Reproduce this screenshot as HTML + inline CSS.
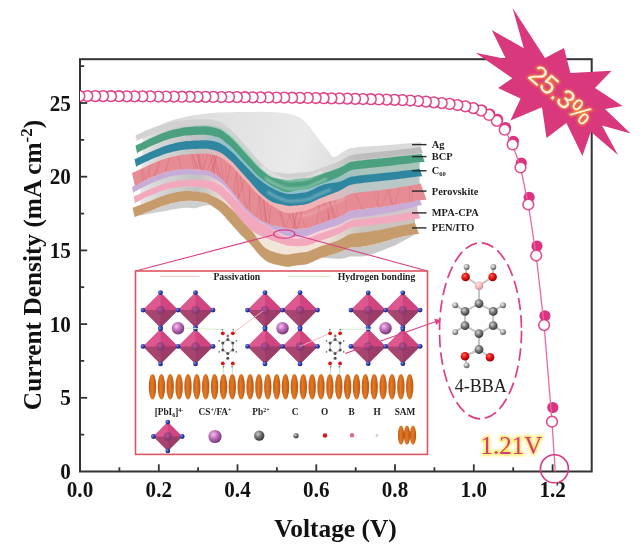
<!DOCTYPE html>
<html><head><meta charset="utf-8"><title>JV</title>
<style>
html,body{margin:0;padding:0;background:#fff;}
svg{display:block;filter:blur(0.45px)}
text{font-family:"Liberation Serif",serif;}
.tk{font-weight:bold;font-size:23px;fill:#111}
.al{font-weight:bold;font-size:25.4px;fill:#111}
.pce{font-family:"Liberation Sans",sans-serif;font-size:26.5px;fill:#f08a3c}
.voc{font-size:25px;fill:#d63a78}
.lb{font-weight:bold;font-size:10.4px;fill:#1c1c1c}
.lg{font-weight:bold;font-size:9.7px;fill:#222}
.lg2{font-weight:bold;font-size:9.3px;fill:#222}
</style></head><body>
<svg width="644" height="560" viewBox="0 0 644 560">
<defs>
<clipPath id="pc"><rect x="80" y="59.2" width="511.70000000000005" height="412.3"/></clipPath>
<filter id="glow" x="-20%" y="-50%" width="140%" height="200%"><feGaussianBlur stdDeviation="1.3"/></filter>
<filter id="yglow" x="-20%" y="-50%" width="140%" height="200%"><feGaussianBlur stdDeviation="1.4"/></filter>
<linearGradient id="agtop" gradientUnits="userSpaceOnUse" x1="150" y1="110" x2="420" y2="190">
<stop offset="0" stop-color="#d8d8d8"/><stop offset="0.3" stop-color="#e2e2e2"/><stop offset="0.55" stop-color="#eaeaea"/><stop offset="0.75" stop-color="#dadada"/><stop offset="1" stop-color="#dcdcdc"/></linearGradient>
<linearGradient id="agface" gradientUnits="userSpaceOnUse" x1="135" y1="0" x2="420" y2="0"><stop offset="0" stop-color="#d2d2d2"/><stop offset="0.68" stop-color="#d0d0d0"/><stop offset="0.78" stop-color="#bdbdbd"/><stop offset="1" stop-color="#bbbbbb"/></linearGradient>
<filter id="hl" x="-10%" y="-50%" width="120%" height="200%"><feGaussianBlur stdDeviation="0.9"/></filter>
<filter id="soft" x="-5%" y="-5%" width="110%" height="110%"><feGaussianBlur stdDeviation="0.55"/></filter>
<linearGradient id="gp_tan" gradientUnits="userSpaceOnUse" x1="135" y1="0" x2="420" y2="0"><stop offset="0" stop-color="#ececec"/><stop offset="0.08" stop-color="#d6d6d6"/><stop offset="0.22" stop-color="#c0c2c1"/><stop offset="0.33" stop-color="#f1e4d8"/><stop offset="0.66" stop-color="#f1e4d8"/><stop offset="0.8" stop-color="#c9c4bc"/><stop offset="1" stop-color="#c9c4bc"/></linearGradient>
<linearGradient id="gp_pink" gradientUnits="userSpaceOnUse" x1="135" y1="0" x2="420" y2="0"><stop offset="0" stop-color="#ececec"/><stop offset="0.08" stop-color="#d6d6d6"/><stop offset="0.22" stop-color="#c0c2c1"/><stop offset="0.33" stop-color="#f9d3dc"/><stop offset="0.66" stop-color="#f9d3dc"/><stop offset="0.8" stop-color="#d3c6cb"/><stop offset="1" stop-color="#d3c6cb"/></linearGradient>
<linearGradient id="gp_purple" gradientUnits="userSpaceOnUse" x1="135" y1="0" x2="420" y2="0"><stop offset="0" stop-color="#ececec"/><stop offset="0.08" stop-color="#d6d6d6"/><stop offset="0.22" stop-color="#c0c2c1"/><stop offset="0.33" stop-color="#dccbe6"/><stop offset="0.66" stop-color="#dccbe6"/><stop offset="0.8" stop-color="#cfc9d3"/><stop offset="1" stop-color="#cfc9d3"/></linearGradient>
<linearGradient id="gp_perov" gradientUnits="userSpaceOnUse" x1="135" y1="0" x2="420" y2="0"><stop offset="0" stop-color="#ececec"/><stop offset="0.08" stop-color="#d6d6d6"/><stop offset="0.22" stop-color="#c0c2c1"/><stop offset="0.33" stop-color="#f2b3b6"/><stop offset="0.66" stop-color="#f2b3b6"/><stop offset="0.8" stop-color="#b9c7c7"/><stop offset="1" stop-color="#b9c7c7"/></linearGradient>
<linearGradient id="gp_c60" gradientUnits="userSpaceOnUse" x1="135" y1="0" x2="420" y2="0"><stop offset="0" stop-color="#ececec"/><stop offset="0.08" stop-color="#d6d6d6"/><stop offset="0.22" stop-color="#c0c2c1"/><stop offset="0.33" stop-color="#8fc0cc"/><stop offset="0.66" stop-color="#8fc0cc"/><stop offset="0.8" stop-color="#a9c4b9"/><stop offset="1" stop-color="#a9c4b9"/></linearGradient>
<linearGradient id="gp_bcp" gradientUnits="userSpaceOnUse" x1="135" y1="0" x2="420" y2="0"><stop offset="0" stop-color="#ececec"/><stop offset="0.08" stop-color="#d6d6d6"/><stop offset="0.22" stop-color="#c0c2c1"/><stop offset="0.33" stop-color="#a3d3bd"/><stop offset="0.66" stop-color="#a3d3bd"/><stop offset="0.8" stop-color="#c9cec9"/><stop offset="1" stop-color="#c9cec9"/></linearGradient>
<linearGradient id="gp_ag" gradientUnits="userSpaceOnUse" x1="135" y1="0" x2="420" y2="0"><stop offset="0" stop-color="#ececec"/><stop offset="0.08" stop-color="#d6d6d6"/><stop offset="0.22" stop-color="#c0c2c1"/><stop offset="0.33" stop-color="#e4e4e4"/><stop offset="0.66" stop-color="#e4e4e4"/><stop offset="0.8" stop-color="#ddd"/><stop offset="1" stop-color="#ddd"/></linearGradient>

<radialGradient id="gBlue" cx="0.35" cy="0.35" r="0.7"><stop offset="0" stop-color="#7d8fe0"/><stop offset="0.5" stop-color="#2f3fb0"/><stop offset="1" stop-color="#151f70"/></radialGradient>
<radialGradient id="gPb" cx="0.4" cy="0.4" r="0.65"><stop offset="0" stop-color="#b0509a"/><stop offset="1" stop-color="#7a2f66"/></radialGradient>
<radialGradient id="gCs" cx="0.38" cy="0.35" r="0.7"><stop offset="0" stop-color="#f2c4ee"/><stop offset="0.4" stop-color="#c676c2"/><stop offset="1" stop-color="#6e3074"/></radialGradient>
<radialGradient id="gGray" cx="0.38" cy="0.35" r="0.7"><stop offset="0" stop-color="#c8c8c8"/><stop offset="0.5" stop-color="#6e6e6e"/><stop offset="1" stop-color="#2c2c2c"/></radialGradient>
<radialGradient id="gC" cx="0.38" cy="0.35" r="0.7"><stop offset="0" stop-color="#d8d8d8"/><stop offset="0.45" stop-color="#7c7c7c"/><stop offset="1" stop-color="#2e2e2e"/></radialGradient>
<radialGradient id="gO" cx="0.38" cy="0.35" r="0.7"><stop offset="0" stop-color="#ff6a5a"/><stop offset="0.5" stop-color="#e01010"/><stop offset="1" stop-color="#8c0000"/></radialGradient>
<radialGradient id="gB" cx="0.38" cy="0.35" r="0.7"><stop offset="0" stop-color="#ffe6e4"/><stop offset="0.55" stop-color="#f4b8ba"/><stop offset="1" stop-color="#c48a8e"/></radialGradient>
<radialGradient id="gH" cx="0.38" cy="0.35" r="0.7"><stop offset="0" stop-color="#f4f4f4"/><stop offset="0.5" stop-color="#a8a8a8"/><stop offset="1" stop-color="#4a4a4a"/></radialGradient>
<linearGradient id="gSam" x1="0" y1="0" x2="1" y2="0"><stop offset="0" stop-color="#c25a14"/><stop offset="0.45" stop-color="#e27a26"/><stop offset="1" stop-color="#ba5410"/></linearGradient>
<filter id="soft2" x="-5%" y="-5%" width="110%" height="110%"><feGaussianBlur stdDeviation="0.45"/></filter>

</defs>
<rect width="644" height="560" fill="#fff"/>
<rect x="80" y="59.2" width="511.70000000000005" height="412.3" fill="none" stroke="#333" stroke-width="2"/>
<line x1="119.4" y1="471.5" x2="119.4" y2="467.3" stroke="#333" stroke-width="1.8"/>
<line x1="158.8" y1="471.5" x2="158.8" y2="464.3" stroke="#333" stroke-width="1.8"/>
<line x1="198.1" y1="471.5" x2="198.1" y2="467.3" stroke="#333" stroke-width="1.8"/>
<line x1="237.5" y1="471.5" x2="237.5" y2="464.3" stroke="#333" stroke-width="1.8"/>
<line x1="276.9" y1="471.5" x2="276.9" y2="467.3" stroke="#333" stroke-width="1.8"/>
<line x1="316.3" y1="471.5" x2="316.3" y2="464.3" stroke="#333" stroke-width="1.8"/>
<line x1="355.7" y1="471.5" x2="355.7" y2="467.3" stroke="#333" stroke-width="1.8"/>
<line x1="395.0" y1="471.5" x2="395.0" y2="464.3" stroke="#333" stroke-width="1.8"/>
<line x1="434.4" y1="471.5" x2="434.4" y2="467.3" stroke="#333" stroke-width="1.8"/>
<line x1="473.8" y1="471.5" x2="473.8" y2="464.3" stroke="#333" stroke-width="1.8"/>
<line x1="513.2" y1="471.5" x2="513.2" y2="467.3" stroke="#333" stroke-width="1.8"/>
<line x1="552.6" y1="471.5" x2="552.6" y2="464.3" stroke="#333" stroke-width="1.8"/>
<line x1="80" y1="434.6" x2="84.2" y2="434.6" stroke="#333" stroke-width="1.8"/>
<line x1="80" y1="397.8" x2="87.2" y2="397.8" stroke="#333" stroke-width="1.8"/>
<line x1="80" y1="360.9" x2="84.2" y2="360.9" stroke="#333" stroke-width="1.8"/>
<line x1="80" y1="324.1" x2="87.2" y2="324.1" stroke="#333" stroke-width="1.8"/>
<line x1="80" y1="287.2" x2="84.2" y2="287.2" stroke="#333" stroke-width="1.8"/>
<line x1="80" y1="250.4" x2="87.2" y2="250.4" stroke="#333" stroke-width="1.8"/>
<line x1="80" y1="213.6" x2="84.2" y2="213.6" stroke="#333" stroke-width="1.8"/>
<line x1="80" y1="176.7" x2="87.2" y2="176.7" stroke="#333" stroke-width="1.8"/>
<line x1="80" y1="139.9" x2="84.2" y2="139.9" stroke="#333" stroke-width="1.8"/>
<line x1="80" y1="103.0" x2="87.2" y2="103.0" stroke="#333" stroke-width="1.8"/>
<line x1="80" y1="66.1" x2="84.2" y2="66.1" stroke="#333" stroke-width="1.8"/>
<text transform="translate(80.0,497.3) scale(0.92,1)" class="tk" text-anchor="middle">0.0</text>
<text transform="translate(158.8,497.3) scale(0.92,1)" class="tk" text-anchor="middle">0.2</text>
<text transform="translate(237.5,497.3) scale(0.92,1)" class="tk" text-anchor="middle">0.4</text>
<text transform="translate(316.3,497.3) scale(0.92,1)" class="tk" text-anchor="middle">0.6</text>
<text transform="translate(395.0,497.3) scale(0.92,1)" class="tk" text-anchor="middle">0.8</text>
<text transform="translate(473.8,497.3) scale(0.92,1)" class="tk" text-anchor="middle">1.0</text>
<text transform="translate(552.6,497.3) scale(0.92,1)" class="tk" text-anchor="middle">1.2</text>
<text transform="translate(70.8,479.1) scale(0.92,1)" class="tk" text-anchor="end">0</text>
<text transform="translate(70.8,405.4) scale(0.92,1)" class="tk" text-anchor="end">5</text>
<text transform="translate(70.8,331.7) scale(0.92,1)" class="tk" text-anchor="end">10</text>
<text transform="translate(70.8,258.0) scale(0.92,1)" class="tk" text-anchor="end">15</text>
<text transform="translate(70.8,184.3) scale(0.92,1)" class="tk" text-anchor="end">20</text>
<text transform="translate(70.8,110.6) scale(0.92,1)" class="tk" text-anchor="end">25</text>
<text x="335.5" y="537" class="al" text-anchor="middle">Voltage (V)</text>
<text transform="translate(40.8,265) rotate(-90)" class="al" style="font-size:25.35px" text-anchor="middle">Current Density (mA cm<tspan dy="-8.5" font-size="17">-2</tspan><tspan dy="8.5">)</tspan></text>
<g clip-path="url(#pc)">
<circle cx="552.8" cy="407.5" r="5.6" fill="#dc3380"/>
<circle cx="544.9" cy="315.8" r="5.6" fill="#dc3380"/>
<circle cx="537.0" cy="246.1" r="5.6" fill="#dc3380"/>
<circle cx="529.1" cy="197.3" r="5.6" fill="#dc3380"/>
<circle cx="521.3" cy="163.0" r="5.6" fill="#dc3380"/>
<circle cx="513.4" cy="141.3" r="5.6" fill="#dc3380"/>
<circle cx="505.5" cy="127.5" r="5.6" fill="#dc3380"/>
<circle cx="497.6" cy="119.4" r="5.6" fill="#dc3380"/>
<circle cx="489.8" cy="114.1" r="5.6" fill="#dc3380"/>
<circle cx="481.9" cy="110.2" r="5.6" fill="#dc3380"/>
<circle cx="474.0" cy="108.1" r="5.6" fill="#dc3380"/>
<circle cx="466.1" cy="106.3" r="5.6" fill="#dc3380"/>
<circle cx="458.2" cy="105.0" r="5.6" fill="#dc3380"/>
<circle cx="450.4" cy="103.9" r="5.6" fill="#dc3380"/>
<circle cx="442.5" cy="103.1" r="5.6" fill="#dc3380"/>
<circle cx="434.6" cy="102.3" r="5.6" fill="#dc3380"/>
<circle cx="426.7" cy="101.6" r="5.6" fill="#dc3380"/>
<circle cx="418.9" cy="101.0" r="5.6" fill="#dc3380"/>
<circle cx="411.0" cy="100.5" r="5.6" fill="#dc3380"/>
<circle cx="403.1" cy="100.1" r="5.6" fill="#dc3380"/>
<circle cx="395.2" cy="99.8" r="5.6" fill="#dc3380"/>
<circle cx="387.4" cy="99.6" r="5.6" fill="#dc3380"/>
<circle cx="379.5" cy="99.4" r="5.6" fill="#dc3380"/>
<circle cx="371.6" cy="99.2" r="5.6" fill="#dc3380"/>
<circle cx="363.7" cy="99.0" r="5.6" fill="#dc3380"/>
<circle cx="355.9" cy="98.8" r="5.6" fill="#dc3380"/>
<circle cx="348.0" cy="98.6" r="5.6" fill="#dc3380"/>
<circle cx="340.1" cy="98.4" r="5.6" fill="#dc3380"/>
<circle cx="332.2" cy="98.3" r="5.6" fill="#dc3380"/>
<circle cx="324.4" cy="98.2" r="5.6" fill="#dc3380"/>
<circle cx="316.5" cy="98.0" r="5.6" fill="#dc3380"/>
<circle cx="308.6" cy="97.9" r="5.6" fill="#dc3380"/>
<circle cx="300.7" cy="97.8" r="5.6" fill="#dc3380"/>
<circle cx="292.9" cy="97.7" r="5.6" fill="#dc3380"/>
<circle cx="285.0" cy="97.6" r="5.6" fill="#dc3380"/>
<circle cx="277.1" cy="97.5" r="5.6" fill="#dc3380"/>
<circle cx="269.2" cy="97.4" r="5.6" fill="#dc3380"/>
<circle cx="261.3" cy="97.4" r="5.6" fill="#dc3380"/>
<circle cx="253.5" cy="97.3" r="5.6" fill="#dc3380"/>
<circle cx="245.6" cy="97.2" r="5.6" fill="#dc3380"/>
<circle cx="237.7" cy="97.1" r="5.6" fill="#dc3380"/>
<circle cx="229.8" cy="97.0" r="5.6" fill="#dc3380"/>
<circle cx="222.0" cy="97.0" r="5.6" fill="#dc3380"/>
<circle cx="214.1" cy="96.9" r="5.6" fill="#dc3380"/>
<circle cx="206.2" cy="96.8" r="5.6" fill="#dc3380"/>
<circle cx="198.3" cy="96.8" r="5.6" fill="#dc3380"/>
<circle cx="190.5" cy="96.7" r="5.6" fill="#dc3380"/>
<circle cx="182.6" cy="96.7" r="5.6" fill="#dc3380"/>
<circle cx="174.7" cy="96.6" r="5.6" fill="#dc3380"/>
<circle cx="166.8" cy="96.5" r="5.6" fill="#dc3380"/>
<circle cx="159.0" cy="96.5" r="5.6" fill="#dc3380"/>
<circle cx="151.1" cy="96.4" r="5.6" fill="#dc3380"/>
<circle cx="143.2" cy="96.4" r="5.6" fill="#dc3380"/>
<circle cx="135.3" cy="96.3" r="5.6" fill="#dc3380"/>
<circle cx="127.5" cy="96.3" r="5.6" fill="#dc3380"/>
<circle cx="119.6" cy="96.2" r="5.6" fill="#dc3380"/>
<circle cx="111.7" cy="96.2" r="5.6" fill="#dc3380"/>
<circle cx="103.8" cy="96.1" r="5.6" fill="#dc3380"/>
<circle cx="96.0" cy="96.1" r="5.6" fill="#dc3380"/>
<circle cx="88.1" cy="96.0" r="5.6" fill="#dc3380"/>
<circle cx="80.2" cy="96.0" r="5.6" fill="#dc3380"/>
<polyline points="79.4,96.0 87.3,96.0 95.2,96.1 103.0,96.1 110.9,96.2 118.8,96.2 126.7,96.3 134.5,96.3 142.4,96.4 150.3,96.4 158.2,96.5 166.0,96.5 173.9,96.6 181.8,96.7 189.7,96.7 197.5,96.8 205.4,96.8 213.3,96.9 221.2,97.0 229.0,97.0 236.9,97.1 244.8,97.2 252.7,97.3 260.5,97.4 268.4,97.4 276.3,97.5 284.2,97.6 292.1,97.7 299.9,97.8 307.8,97.9 315.7,98.0 323.6,98.2 331.4,98.3 339.3,98.4 347.2,98.6 355.1,98.8 362.9,99.0 370.8,99.2 378.7,99.4 386.6,99.6 394.4,99.8 402.3,100.1 410.2,100.5 418.1,101.0 425.9,101.6 433.8,102.3 441.7,103.1 449.6,103.9 457.4,105.0 465.3,106.3 473.2,108.1 481.1,110.6 489.0,114.9 496.8,120.8 504.7,129.7 512.6,144.5 520.5,167.5 528.3,204.5 536.2,255.5 544.1,325.1 552.0,421.7 555.2,471.5 557,520" fill="none" stroke="#e86aa2" stroke-width="1.3"/>
<circle cx="552.0" cy="421.7" r="5.35" fill="#fff" stroke="#dc3380" stroke-width="1.55" stroke-opacity="0.88"/>
<circle cx="544.1" cy="325.1" r="5.35" fill="#fff" stroke="#dc3380" stroke-width="1.55" stroke-opacity="0.88"/>
<circle cx="536.2" cy="255.5" r="5.35" fill="#fff" stroke="#dc3380" stroke-width="1.55" stroke-opacity="0.88"/>
<circle cx="528.3" cy="204.5" r="5.35" fill="#fff" stroke="#dc3380" stroke-width="1.55" stroke-opacity="0.88"/>
<circle cx="520.5" cy="167.5" r="5.35" fill="#fff" stroke="#dc3380" stroke-width="1.55" stroke-opacity="0.88"/>
<circle cx="512.6" cy="144.5" r="5.35" fill="#fff" stroke="#dc3380" stroke-width="1.55" stroke-opacity="0.88"/>
<circle cx="504.7" cy="129.7" r="5.35" fill="#fff" stroke="#dc3380" stroke-width="1.55" stroke-opacity="0.88"/>
<circle cx="496.8" cy="120.8" r="5.35" fill="#fff" stroke="#dc3380" stroke-width="1.55" stroke-opacity="0.88"/>
<circle cx="489.0" cy="114.9" r="5.35" fill="#fff" stroke="#dc3380" stroke-width="1.55" stroke-opacity="0.88"/>
<circle cx="481.1" cy="110.6" r="5.35" fill="#fff" stroke="#dc3380" stroke-width="1.55" stroke-opacity="0.88"/>
<circle cx="473.2" cy="108.1" r="5.35" fill="#fff" stroke="#dc3380" stroke-width="1.55" stroke-opacity="0.88"/>
<circle cx="465.3" cy="106.3" r="5.35" fill="#fff" stroke="#dc3380" stroke-width="1.55" stroke-opacity="0.88"/>
<circle cx="457.4" cy="105.0" r="5.35" fill="#fff" stroke="#dc3380" stroke-width="1.55" stroke-opacity="0.88"/>
<circle cx="449.6" cy="103.9" r="5.35" fill="#fff" stroke="#dc3380" stroke-width="1.55" stroke-opacity="0.88"/>
<circle cx="441.7" cy="103.1" r="5.35" fill="#fff" stroke="#dc3380" stroke-width="1.55" stroke-opacity="0.88"/>
<circle cx="433.8" cy="102.3" r="5.35" fill="#fff" stroke="#dc3380" stroke-width="1.55" stroke-opacity="0.88"/>
<circle cx="425.9" cy="101.6" r="5.35" fill="#fff" stroke="#dc3380" stroke-width="1.55" stroke-opacity="0.88"/>
<circle cx="418.1" cy="101.0" r="5.35" fill="#fff" stroke="#dc3380" stroke-width="1.55" stroke-opacity="0.88"/>
<circle cx="410.2" cy="100.5" r="5.35" fill="#fff" stroke="#dc3380" stroke-width="1.55" stroke-opacity="0.88"/>
<circle cx="402.3" cy="100.1" r="5.35" fill="#fff" stroke="#dc3380" stroke-width="1.55" stroke-opacity="0.88"/>
<circle cx="394.4" cy="99.8" r="5.35" fill="#fff" stroke="#dc3380" stroke-width="1.55" stroke-opacity="0.88"/>
<circle cx="386.6" cy="99.6" r="5.35" fill="#fff" stroke="#dc3380" stroke-width="1.55" stroke-opacity="0.88"/>
<circle cx="378.7" cy="99.4" r="5.35" fill="#fff" stroke="#dc3380" stroke-width="1.55" stroke-opacity="0.88"/>
<circle cx="370.8" cy="99.2" r="5.35" fill="#fff" stroke="#dc3380" stroke-width="1.55" stroke-opacity="0.88"/>
<circle cx="362.9" cy="99.0" r="5.35" fill="#fff" stroke="#dc3380" stroke-width="1.55" stroke-opacity="0.88"/>
<circle cx="355.1" cy="98.8" r="5.35" fill="#fff" stroke="#dc3380" stroke-width="1.55" stroke-opacity="0.88"/>
<circle cx="347.2" cy="98.6" r="5.35" fill="#fff" stroke="#dc3380" stroke-width="1.55" stroke-opacity="0.88"/>
<circle cx="339.3" cy="98.4" r="5.35" fill="#fff" stroke="#dc3380" stroke-width="1.55" stroke-opacity="0.88"/>
<circle cx="331.4" cy="98.3" r="5.35" fill="#fff" stroke="#dc3380" stroke-width="1.55" stroke-opacity="0.88"/>
<circle cx="323.6" cy="98.2" r="5.35" fill="#fff" stroke="#dc3380" stroke-width="1.55" stroke-opacity="0.88"/>
<circle cx="315.7" cy="98.0" r="5.35" fill="#fff" stroke="#dc3380" stroke-width="1.55" stroke-opacity="0.88"/>
<circle cx="307.8" cy="97.9" r="5.35" fill="#fff" stroke="#dc3380" stroke-width="1.55" stroke-opacity="0.88"/>
<circle cx="299.9" cy="97.8" r="5.35" fill="#fff" stroke="#dc3380" stroke-width="1.55" stroke-opacity="0.88"/>
<circle cx="292.1" cy="97.7" r="5.35" fill="#fff" stroke="#dc3380" stroke-width="1.55" stroke-opacity="0.88"/>
<circle cx="284.2" cy="97.6" r="5.35" fill="#fff" stroke="#dc3380" stroke-width="1.55" stroke-opacity="0.88"/>
<circle cx="276.3" cy="97.5" r="5.35" fill="#fff" stroke="#dc3380" stroke-width="1.55" stroke-opacity="0.88"/>
<circle cx="268.4" cy="97.4" r="5.35" fill="#fff" stroke="#dc3380" stroke-width="1.55" stroke-opacity="0.88"/>
<circle cx="260.5" cy="97.4" r="5.35" fill="#fff" stroke="#dc3380" stroke-width="1.55" stroke-opacity="0.88"/>
<circle cx="252.7" cy="97.3" r="5.35" fill="#fff" stroke="#dc3380" stroke-width="1.55" stroke-opacity="0.88"/>
<circle cx="244.8" cy="97.2" r="5.35" fill="#fff" stroke="#dc3380" stroke-width="1.55" stroke-opacity="0.88"/>
<circle cx="236.9" cy="97.1" r="5.35" fill="#fff" stroke="#dc3380" stroke-width="1.55" stroke-opacity="0.88"/>
<circle cx="229.0" cy="97.0" r="5.35" fill="#fff" stroke="#dc3380" stroke-width="1.55" stroke-opacity="0.88"/>
<circle cx="221.2" cy="97.0" r="5.35" fill="#fff" stroke="#dc3380" stroke-width="1.55" stroke-opacity="0.88"/>
<circle cx="213.3" cy="96.9" r="5.35" fill="#fff" stroke="#dc3380" stroke-width="1.55" stroke-opacity="0.88"/>
<circle cx="205.4" cy="96.8" r="5.35" fill="#fff" stroke="#dc3380" stroke-width="1.55" stroke-opacity="0.88"/>
<circle cx="197.5" cy="96.8" r="5.35" fill="#fff" stroke="#dc3380" stroke-width="1.55" stroke-opacity="0.88"/>
<circle cx="189.7" cy="96.7" r="5.35" fill="#fff" stroke="#dc3380" stroke-width="1.55" stroke-opacity="0.88"/>
<circle cx="181.8" cy="96.7" r="5.35" fill="#fff" stroke="#dc3380" stroke-width="1.55" stroke-opacity="0.88"/>
<circle cx="173.9" cy="96.6" r="5.35" fill="#fff" stroke="#dc3380" stroke-width="1.55" stroke-opacity="0.88"/>
<circle cx="166.0" cy="96.5" r="5.35" fill="#fff" stroke="#dc3380" stroke-width="1.55" stroke-opacity="0.88"/>
<circle cx="158.2" cy="96.5" r="5.35" fill="#fff" stroke="#dc3380" stroke-width="1.55" stroke-opacity="0.88"/>
<circle cx="150.3" cy="96.4" r="5.35" fill="#fff" stroke="#dc3380" stroke-width="1.55" stroke-opacity="0.88"/>
<circle cx="142.4" cy="96.4" r="5.35" fill="#fff" stroke="#dc3380" stroke-width="1.55" stroke-opacity="0.88"/>
<circle cx="134.5" cy="96.3" r="5.35" fill="#fff" stroke="#dc3380" stroke-width="1.55" stroke-opacity="0.88"/>
<circle cx="126.7" cy="96.3" r="5.35" fill="#fff" stroke="#dc3380" stroke-width="1.55" stroke-opacity="0.88"/>
<circle cx="118.8" cy="96.2" r="5.35" fill="#fff" stroke="#dc3380" stroke-width="1.55" stroke-opacity="0.88"/>
<circle cx="110.9" cy="96.2" r="5.35" fill="#fff" stroke="#dc3380" stroke-width="1.55" stroke-opacity="0.88"/>
<circle cx="103.0" cy="96.1" r="5.35" fill="#fff" stroke="#dc3380" stroke-width="1.55" stroke-opacity="0.88"/>
<circle cx="95.2" cy="96.1" r="5.35" fill="#fff" stroke="#dc3380" stroke-width="1.55" stroke-opacity="0.88"/>
<circle cx="87.3" cy="96.0" r="5.35" fill="#fff" stroke="#dc3380" stroke-width="1.55" stroke-opacity="0.88"/>
<circle cx="79.4" cy="96.0" r="5.35" fill="#fff" stroke="#dc3380" stroke-width="1.55" stroke-opacity="0.88"/>
</g>
<g filter="url(#soft)">
<polygon points="140.0,215.1 141.8,214.3 143.7,213.6 145.5,212.8 147.4,212.1 149.2,211.3 151.1,210.6 152.9,209.8 154.8,209.1 156.6,208.4 158.5,207.6 160.3,206.9 162.2,206.2 164.0,205.5 165.8,204.9 167.7,204.3 169.5,203.8 171.4,203.4 173.2,202.9 175.1,202.5 176.9,202.1 178.8,201.7 180.6,201.4 182.5,201.1 184.3,200.9 186.2,200.8 188.0,200.7 189.8,200.7 191.7,200.7 193.5,200.8 195.4,201.0 197.2,201.2 199.1,201.4 200.9,201.7 202.8,202.0 204.6,202.4 206.5,202.9 208.3,203.7 210.2,204.7 212.0,205.9 212.0,205.9 210.2,205.5 208.3,205.3 206.5,205.4 204.6,205.7 202.8,206.1 200.9,206.6 199.1,207.1 197.2,207.7 195.4,208.3 193.5,208.3 191.7,208.1 189.8,207.9 188.0,207.8 186.2,207.8 184.3,207.9 182.5,208.0 180.6,208.2 178.8,208.4 176.9,208.7 175.1,209.0 173.2,209.4 171.4,209.7 169.5,210.0 167.7,210.4 165.8,210.9 164.0,211.3 162.2,211.5 160.3,211.8 158.5,212.2 156.6,212.5 154.8,212.8 152.9,213.2 151.1,213.5 149.2,213.8 147.4,214.2 145.5,214.5 143.7,214.9 141.8,215.2 140.0,215.6" fill="#cfcfcf" />
<polygon points="322.0,257.7 324.4,257.0 326.7,256.3 329.1,255.7 331.4,255.0 333.8,254.3 336.2,253.5 338.5,252.7 340.9,251.8 343.2,250.7 345.6,249.5 347.9,248.4 350.3,247.7 352.7,247.4 355.0,247.3 357.4,247.1 359.7,246.9 362.1,246.7 364.5,246.4 366.8,246.0 369.2,245.5 371.5,245.0 373.9,244.4 376.3,243.8 378.6,243.2 381.0,242.5 383.3,241.8 385.7,241.1 388.1,240.4 390.4,239.7 392.8,239.1 395.1,238.4 397.5,237.8 399.8,237.2 402.2,236.7 404.6,236.2 406.9,235.7 409.3,235.1 411.6,234.6 414.0,234.1 414.0,235.1 411.6,236.4 409.3,237.6 406.9,238.9 404.6,240.2 402.2,241.4 399.8,242.7 397.5,244.0 395.1,245.4 392.8,246.3 390.4,247.2 388.1,248.1 385.7,249.1 383.3,250.0 381.0,250.9 378.6,251.8 376.3,252.7 373.9,253.5 371.5,254.3 369.2,255.1 366.8,255.8 364.5,256.3 362.1,256.5 359.7,256.6 357.4,256.6 355.0,256.5 352.7,256.5 350.3,256.6 347.9,257.1 345.6,258.0 343.2,258.5 340.9,258.8 338.5,258.8 336.2,258.8 333.8,258.6 331.4,258.5 329.1,258.3 326.7,258.1 324.4,257.9 322.0,257.7" fill="#c9c9c9" />
<polygon points="135.5,137.0 137.6,135.5 139.6,134.1 141.7,132.8 143.7,131.7 145.8,130.6 147.8,129.7 149.9,128.9 151.9,128.1 154.0,127.3 156.0,126.6 158.1,125.8 160.1,124.9 162.2,124.0 164.3,123.2 166.3,122.3 168.4,121.6 170.4,120.9 172.5,120.2 174.5,119.6 176.6,119.0 178.6,118.5 180.7,117.9 182.7,117.4 184.8,117.0 186.8,116.5 188.9,116.1 191.0,115.7 193.0,115.3 195.1,115.0 197.1,114.7 199.2,114.4 201.2,114.2 203.3,113.9 205.3,113.7 207.4,113.4 209.4,113.2 211.5,113.0 213.6,112.9 215.6,112.7 217.7,112.6 219.7,112.5 221.8,112.4 223.8,112.4 225.9,112.3 227.9,112.3 230.0,112.2 232.0,112.2 234.1,112.2 236.1,112.1 238.2,112.1 240.3,112.1 242.3,112.0 244.4,112.0 246.4,112.0 248.5,111.9 250.5,111.9 252.6,111.9 254.6,111.9 256.7,111.8 258.7,111.8 260.8,111.8 262.8,111.8 264.9,111.8 267.0,111.9 269.0,112.0 271.1,112.1 273.1,112.2 275.2,112.3 277.2,112.5 279.3,112.6 281.3,112.8 283.4,113.0 285.4,113.2 287.5,113.5 289.5,113.9 291.6,114.4 293.7,115.0 295.7,115.7 297.8,116.5 299.8,117.4 301.9,118.7 303.9,120.5 306.0,122.8 308.0,125.0 310.1,127.5 312.1,130.2 314.2,132.9 316.2,135.7 318.3,138.5 320.4,141.4 322.4,144.0 324.5,146.4 326.5,148.8 328.6,151.2 330.6,154.4 332.7,156.7 334.7,156.8 336.8,156.0 338.8,154.7 340.9,153.2 342.9,151.8 345.0,150.7 347.1,149.5 349.1,148.6 351.2,148.1 353.2,147.8 355.3,147.5 357.3,147.3 359.4,147.0 361.4,146.8 363.5,146.7 365.5,146.5 367.6,146.4 369.7,146.3 371.7,146.2 373.8,146.0 375.8,145.9 377.9,145.8 379.9,145.7 382.0,145.5 384.0,145.4 386.1,145.2 388.1,145.0 390.2,144.9 392.2,144.7 394.3,144.5 396.4,144.3 398.4,144.2 400.5,144.0 402.5,143.8 404.6,143.6 406.6,143.4 408.7,143.3 410.7,143.1 412.8,142.9 414.8,142.7 416.9,142.6 418.9,142.4 421.0,142.2 420.7,148.0 418.3,148.3 415.9,148.6 413.5,148.9 411.1,149.2 408.7,149.5 406.3,149.8 403.9,150.1 401.5,150.3 399.1,150.6 396.7,150.9 394.3,151.2 391.9,151.4 389.5,151.7 387.1,152.0 384.8,152.2 382.4,152.5 380.0,152.8 377.6,153.0 375.2,153.2 372.8,153.5 370.4,153.7 368.0,154.0 365.6,154.2 363.2,154.5 360.8,154.8 358.4,155.0 356.0,155.3 353.6,155.7 351.2,156.2 348.8,157.0 346.4,158.3 344.0,159.8 341.6,161.2 339.2,162.4 336.8,163.4 334.4,164.4 332.0,165.3 329.6,166.1 327.2,167.0 324.8,167.8 322.4,168.6 320.0,169.4 317.6,170.2 315.2,171.1 312.9,171.9 310.5,172.5 308.1,173.0 305.7,173.3 303.3,173.4 300.9,173.5 298.5,173.8 296.1,174.1 293.7,174.3 291.3,174.6 288.9,174.8 286.5,174.7 284.1,174.3 281.7,173.9 279.3,173.6 276.9,173.4 274.5,173.2 272.1,172.6 269.7,171.3 267.3,169.6 264.9,167.6 262.5,165.4 260.1,163.1 257.7,160.6 255.3,157.8 252.9,154.9 250.5,152.0 248.1,149.2 245.7,146.5 243.3,143.9 241.0,141.3 238.6,138.6 236.2,135.9 233.8,133.4 231.4,131.2 229.0,129.2 226.6,127.3 224.2,125.5 221.8,124.0 219.4,122.7 217.0,122.0 214.6,121.4 212.2,120.9 209.8,120.5 207.4,120.2 205.0,120.2 202.6,120.2 200.2,120.3 197.8,120.4 195.4,120.4 193.0,120.6 190.6,120.7 188.2,120.8 185.8,120.9 183.4,121.2 181.0,121.5 178.6,121.9 176.2,122.3 173.8,122.8 171.4,123.3 169.1,123.8 166.7,124.5 164.3,125.2 161.9,126.0 159.5,126.8 157.1,127.7 154.7,128.6 152.3,129.4 149.9,130.3 147.5,131.3 145.1,132.3 142.7,133.3 140.3,134.3 137.9,135.3 135.5,136.3" fill="url(#agtop)" />
<polygon points="140.5,199.6 142.8,198.4 145.1,197.3 147.4,196.2 149.7,195.1 152.0,194.1 154.3,193.2 156.6,192.3 159.0,191.4 161.3,190.5 163.6,189.7 165.9,189.0 168.2,188.4 170.5,188.0 172.8,187.5 175.1,187.1 177.4,186.8 179.7,186.5 182.0,186.3 184.3,186.2 186.6,186.1 188.9,186.2 191.2,186.3 193.6,186.4 195.9,186.5 198.2,186.6 200.5,186.8 202.8,187.0 205.1,187.3 207.4,187.9 209.7,188.7 212.0,189.8 214.3,191.0 216.6,192.4 218.9,193.9 221.2,195.8 223.5,198.2 225.8,200.7 228.2,203.3 230.5,205.9 232.8,208.7 235.1,211.6 237.4,214.6 239.7,217.6 242.0,220.5 244.3,223.2 246.6,225.5 248.9,227.7 251.2,229.6 253.5,231.3 255.8,232.8 258.1,234.0 260.4,235.0 262.8,236.0 265.1,236.9 267.4,237.9 269.7,239.0 272.0,240.0 274.3,240.8 276.6,241.5 278.9,242.3 281.2,243.1 283.5,243.9 285.8,244.6 288.1,245.2 290.4,245.4 292.7,245.6 295.1,245.6 297.4,245.7 299.7,245.6 302.0,245.5 304.3,245.4 306.6,245.2 308.9,244.7 311.2,243.9 313.5,243.0 315.8,242.1 318.1,241.1 320.4,240.3 322.7,239.5 325.0,238.7 327.3,237.9 329.7,237.1 332.0,236.2 334.3,235.4 336.6,234.5 338.9,233.5 341.2,232.5 343.5,231.1 345.8,229.6 348.1,228.3 350.4,227.4 352.7,226.8 355.0,226.5 357.3,226.1 359.6,225.9 361.9,225.6 364.3,225.4 366.6,225.1 368.9,224.8 371.2,224.6 373.5,224.3 375.8,224.1 378.1,223.8 380.4,223.6 382.7,223.3 385.0,223.0 387.3,222.7 389.6,222.4 391.9,222.1 394.2,221.8 396.5,221.5 398.9,221.1 401.2,220.8 403.5,220.4 405.8,220.1 408.1,219.7 410.4,219.3 412.7,218.9 415.0,218.5 415.0,223.4 412.7,223.8 410.4,224.2 408.1,224.7 405.8,225.1 403.5,225.6 401.2,226.0 398.9,226.4 396.5,226.9 394.2,227.3 391.9,227.8 389.6,228.3 387.3,228.8 385.0,229.2 382.7,229.7 380.4,230.2 378.1,230.6 375.8,231.0 373.5,231.4 371.2,231.8 368.9,232.2 366.6,232.5 364.3,232.8 361.9,233.1 359.6,233.4 357.3,233.6 355.0,233.9 352.7,234.2 350.4,234.6 348.1,235.4 345.8,236.7 343.5,238.1 341.2,239.4 338.9,240.5 336.6,241.4 334.3,242.3 332.0,243.1 329.7,243.9 327.3,244.6 325.0,245.3 322.7,246.1 320.4,246.9 318.1,247.7 315.8,248.7 313.5,249.8 311.2,250.8 308.9,251.7 306.6,252.3 304.3,252.6 302.0,252.9 299.7,253.1 297.4,253.5 295.1,253.9 292.7,254.4 290.4,254.8 288.1,255.2 285.8,255.2 283.5,255.0 281.2,254.5 278.9,253.9 276.6,253.3 274.3,252.7 272.0,251.9 269.7,250.9 267.4,249.7 265.1,248.1 262.8,246.0 260.4,243.3 258.1,240.2 255.8,236.9 253.5,233.5 251.2,230.4 248.9,227.9 246.6,225.5 244.3,223.1 242.0,220.7 239.7,218.2 237.4,215.6 235.1,213.0 232.8,210.6 230.5,208.4 228.2,206.4 225.8,204.5 223.5,202.6 221.2,201.0 218.9,199.7 216.6,198.6 214.3,197.5 212.0,196.2 209.7,195.1 207.4,194.2 205.1,193.5 202.8,193.1 200.5,192.7 198.2,192.4 195.9,192.0 193.6,191.8 191.2,191.6 188.9,191.5 186.6,191.5 184.3,191.6 182.0,191.9 179.7,192.2 177.4,192.6 175.1,193.1 172.8,193.6 170.5,194.1 168.2,194.7 165.9,195.3 163.6,196.1 161.3,197.0 159.0,197.9 156.6,198.8 154.3,199.8 152.0,200.7 149.7,201.6 147.4,202.5 145.1,203.5 142.8,204.4 140.5,205.4" fill="url(#gp_tan)" />
<polygon points="132.5,207.8 134.9,207.0 137.2,206.1 139.6,205.2 142.0,204.3 144.4,203.3 146.7,202.3 149.1,201.4 151.5,200.4 153.9,199.5 156.2,198.5 158.6,197.5 161.0,196.6 163.4,195.7 165.7,194.9 168.1,194.2 170.5,193.6 172.9,193.1 175.2,192.5 177.6,192.1 180.0,191.7 182.4,191.3 184.7,191.1 187.1,191.0 189.5,191.0 191.8,191.2 194.2,191.4 196.6,191.6 199.0,192.0 201.3,192.4 203.7,192.8 206.1,193.2 208.5,194.1 210.8,195.2 213.2,196.4 215.6,197.6 218.0,198.7 220.3,200.0 222.7,201.5 225.1,203.3 227.5,205.3 229.8,207.4 232.2,209.5 234.6,212.0 237.0,214.6 239.3,217.3 241.7,219.9 244.1,222.4 246.4,224.8 248.8,227.3 251.2,229.9 253.6,233.0 255.9,236.5 258.3,240.0 260.7,243.2 263.1,245.9 265.4,247.9 267.8,249.4 270.2,250.7 272.6,251.6 274.9,252.3 277.3,252.9 279.7,253.6 282.1,254.2 284.4,254.6 286.8,254.7 289.2,254.6 291.6,254.1 293.9,253.6 296.3,253.2 298.7,252.8 301.1,252.5 303.4,252.2 305.8,251.9 308.2,251.4 310.5,250.6 312.9,249.6 315.3,248.5 317.7,247.4 320.0,246.5 322.4,245.7 324.8,244.9 327.2,244.2 329.5,243.4 331.9,242.6 334.3,241.8 336.7,240.9 339.0,239.9 341.4,238.8 343.8,237.4 346.2,236.0 348.5,234.7 350.9,234.0 353.3,233.6 355.7,233.3 358.0,233.0 360.4,232.8 362.8,232.5 365.1,232.2 367.5,231.9 369.9,231.5 372.3,231.1 374.6,230.7 377.0,230.3 379.4,229.9 381.8,229.4 384.1,228.9 386.5,228.4 388.9,227.9 391.3,227.4 393.6,226.9 396.0,226.5 398.4,226.0 400.8,225.6 403.1,225.1 405.5,224.7 407.9,224.2 410.3,223.8 412.6,223.3 415.0,222.9 419.0,233.9 412.6,234.4 410.3,234.9 407.9,235.4 405.5,236.0 403.1,236.5 400.8,237.0 398.4,237.6 396.0,238.2 393.6,238.8 391.3,239.5 388.9,240.2 386.5,240.9 384.1,241.6 381.8,242.3 379.4,243.0 377.0,243.6 374.6,244.2 372.3,244.8 369.9,245.3 367.5,245.8 365.1,246.3 362.8,246.6 360.4,246.9 358.0,247.1 355.7,247.2 353.3,247.4 350.9,247.6 348.5,248.2 346.2,249.2 343.8,250.4 341.4,251.6 339.0,252.5 336.7,253.3 334.3,254.1 331.9,254.8 329.5,255.5 327.2,256.2 324.8,256.9 322.4,257.6 320.0,258.4 317.7,259.4 315.3,260.6 312.9,261.8 310.5,262.8 308.2,263.7 305.8,264.4 303.4,264.7 301.1,265.0 298.7,265.3 296.3,265.6 293.9,266.0 291.6,266.3 289.2,266.7 286.8,266.7 284.4,266.5 282.1,266.0 279.7,265.4 277.3,264.8 274.9,264.4 272.6,263.8 270.2,263.0 267.8,261.9 265.4,260.4 263.1,258.5 260.7,256.3 258.3,253.7 255.9,251.0 253.6,248.1 251.2,245.3 248.8,242.8 246.4,240.4 244.1,238.1 241.7,235.7 239.3,233.2 237.0,230.6 234.6,228.0 232.2,225.3 229.8,222.6 227.5,219.9 225.1,217.1 222.7,214.4 220.3,212.1 218.0,210.1 215.6,208.4 213.2,206.7 210.8,205.1 208.5,203.8 206.1,202.8 203.7,202.2 201.3,201.8 199.0,201.4 196.6,201.1 194.2,200.9 191.8,200.7 189.5,200.7 187.1,200.7 184.7,200.9 182.4,201.1 180.0,201.5 177.6,202.0 175.2,202.5 172.9,203.0 170.5,203.6 168.1,204.2 165.7,204.9 163.4,205.7 161.0,206.6 158.6,207.5 156.2,208.5 153.9,209.5 151.5,210.4 149.1,211.4 146.7,212.3 144.4,213.3 142.0,214.3 139.6,215.2 137.2,216.1 134.9,217.0 134.7,217.8" fill="#c69c6c" />
<polygon points="140.5,188.1 142.8,186.9 145.2,185.7 147.5,184.6 149.8,183.5 152.1,182.5 154.5,181.5 156.8,180.6 159.1,179.6 161.4,178.7 163.8,177.9 166.1,177.2 168.4,176.6 170.8,176.1 173.1,175.6 175.4,175.2 177.7,174.8 180.1,174.5 182.4,174.2 184.7,174.0 187.1,174.0 189.4,174.0 191.7,174.0 194.0,174.1 196.4,174.1 198.7,174.2 201.0,174.4 203.3,174.5 205.7,174.8 208.0,175.4 210.3,176.2 212.7,177.2 215.0,178.3 217.3,179.6 219.6,181.1 222.0,183.0 224.3,185.3 226.6,187.8 229.0,190.3 231.3,192.8 233.6,195.5 235.9,198.4 238.3,201.4 240.6,204.3 242.9,207.1 245.2,209.7 247.6,212.0 249.9,214.1 252.2,216.1 254.6,217.8 256.9,219.4 259.2,220.7 261.5,222.0 263.9,223.2 266.2,224.5 268.5,225.8 270.9,227.2 273.2,228.7 275.5,230.0 277.8,231.3 280.2,232.7 282.5,233.9 284.8,234.9 287.1,235.6 289.5,236.1 291.8,236.2 294.1,236.3 296.5,236.2 298.8,236.2 301.1,236.0 303.4,235.9 305.8,235.7 308.1,235.2 310.4,234.4 312.8,233.5 315.1,232.4 317.4,231.4 319.7,230.5 322.1,229.7 324.4,229.0 326.7,228.2 329.0,227.5 331.4,226.8 333.7,226.0 336.0,225.3 338.4,224.4 340.7,223.5 343.0,222.3 345.3,220.9 347.7,219.5 350.0,218.5 352.3,217.9 354.7,217.5 357.0,217.1 359.3,216.8 361.6,216.6 364.0,216.3 366.3,215.9 368.6,215.6 370.9,215.3 373.3,215.0 375.6,214.6 377.9,214.3 380.3,213.9 382.6,213.5 384.9,213.1 387.2,212.7 389.6,212.2 391.9,211.7 394.2,211.3 396.6,210.7 398.9,210.2 401.2,209.7 403.5,209.1 405.9,208.6 408.2,208.0 410.5,207.3 412.8,206.7 415.2,206.0 417.5,205.4 417.5,211.2 415.2,211.6 412.8,212.1 410.5,212.6 408.2,213.0 405.9,213.5 403.5,213.9 401.2,214.3 398.9,214.7 396.6,215.1 394.2,215.5 391.9,215.8 389.6,216.2 387.2,216.5 384.9,216.8 382.6,217.2 380.3,217.5 377.9,217.8 375.6,218.0 373.3,218.3 370.9,218.6 368.6,218.8 366.3,219.1 364.0,219.4 361.6,219.6 359.3,219.9 357.0,220.2 354.7,220.5 352.3,220.9 350.0,221.5 347.7,222.5 345.3,223.9 343.0,225.3 340.7,226.6 338.4,227.6 336.0,228.5 333.7,229.4 331.4,230.2 329.0,231.0 326.7,231.7 324.4,232.5 322.1,233.2 319.7,234.0 317.4,234.9 315.1,235.8 312.8,236.8 310.4,237.7 308.1,238.4 305.8,238.8 303.4,239.0 301.1,239.1 298.8,239.1 296.5,239.2 294.1,239.1 291.8,239.0 289.5,238.9 287.1,238.4 284.8,237.5 282.5,236.4 280.2,234.9 277.8,233.3 275.5,231.7 273.2,230.1 270.9,228.6 268.5,227.1 266.2,225.8 263.9,224.5 261.5,223.3 259.2,222.0 256.9,220.7 254.6,219.1 252.2,217.4 249.9,215.4 247.6,213.3 245.2,211.0 242.9,208.4 240.6,205.8 238.3,203.0 235.9,200.2 233.6,197.6 231.3,195.2 229.0,193.0 226.6,190.8 224.3,188.7 222.0,186.8 219.6,185.2 217.3,184.1 215.0,183.2 212.7,182.3 210.3,181.6 208.0,181.0 205.7,180.7 203.3,180.5 201.0,180.4 198.7,180.3 196.4,180.3 194.0,180.2 191.7,180.2 189.4,180.3 187.1,180.3 184.7,180.4 182.4,180.6 180.1,180.9 177.7,181.2 175.4,181.6 173.1,182.1 170.8,182.5 168.4,183.0 166.1,183.6 163.8,184.4 161.4,185.2 159.1,186.0 156.8,186.9 154.5,187.8 152.1,188.7 149.8,189.7 147.5,190.7 145.2,191.7 142.8,192.8 140.5,193.9" fill="url(#gp_pink)" />
<polygon points="133.5,196.6 135.9,195.6 138.3,194.5 140.7,193.3 143.0,192.2 145.4,191.1 147.8,190.0 150.2,189.0 152.6,188.0 155.0,187.1 157.4,186.2 159.8,185.3 162.1,184.4 164.5,183.6 166.9,182.9 169.3,182.3 171.7,181.8 174.1,181.4 176.5,180.9 178.8,180.5 181.2,180.2 183.6,180.0 186.0,179.8 188.4,179.8 190.8,179.7 193.2,179.7 195.6,179.8 197.9,179.8 200.3,179.9 202.7,180.0 205.1,180.1 207.5,180.4 209.9,181.0 212.3,181.7 214.6,182.5 217.0,183.4 219.4,184.6 221.8,186.2 224.2,188.1 226.6,190.3 229.0,192.5 231.3,194.7 233.7,197.2 236.1,200.0 238.5,202.8 240.9,205.6 243.3,208.4 245.7,210.9 248.1,213.2 250.4,215.4 252.8,217.3 255.2,219.1 257.6,220.6 260.0,222.0 262.4,223.2 264.8,224.5 267.1,225.8 269.5,227.2 271.9,228.8 274.3,230.4 276.7,232.0 279.1,233.7 281.5,235.3 283.9,236.6 286.2,237.6 288.6,238.2 291.0,238.5 293.4,238.6 295.8,238.7 298.2,238.6 300.6,238.6 302.9,238.5 305.3,238.4 307.7,238.0 310.1,237.3 312.5,236.4 314.9,235.4 317.3,234.4 319.7,233.5 322.0,232.7 324.4,232.0 326.8,231.2 329.2,230.4 331.6,229.6 334.0,228.8 336.4,227.9 338.7,227.0 341.1,225.9 343.5,224.5 345.9,223.0 348.3,221.7 350.7,220.8 353.1,220.3 355.4,219.9 357.8,219.6 360.2,219.3 362.6,219.0 365.0,218.7 367.4,218.5 369.8,218.2 372.2,217.9 374.5,217.7 376.9,217.4 379.3,217.1 381.7,216.8 384.1,216.5 386.5,216.1 388.9,215.8 391.2,215.4 393.6,215.1 396.0,214.7 398.4,214.3 400.8,213.9 403.2,213.5 405.6,213.0 408.0,212.6 410.3,212.1 412.7,211.7 415.1,211.2 417.5,210.7 420.3,218.6 415.1,219.0 412.7,219.4 410.3,219.8 408.0,220.2 405.6,220.6 403.2,221.0 400.8,221.3 398.4,221.7 396.0,222.0 393.6,222.4 391.2,222.7 388.9,223.0 386.5,223.3 384.1,223.6 381.7,223.9 379.3,224.2 376.9,224.5 374.5,224.7 372.2,225.0 369.8,225.2 367.4,225.5 365.0,225.8 362.6,226.0 360.2,226.3 357.8,226.6 355.4,226.9 353.1,227.3 350.7,227.8 348.3,228.7 345.9,230.1 343.5,231.6 341.1,233.0 338.7,234.1 336.4,235.1 334.0,236.0 331.6,236.9 329.2,237.7 326.8,238.6 324.4,239.4 322.0,240.2 319.7,241.0 317.3,241.9 314.9,243.0 312.5,243.9 310.1,244.8 307.7,245.5 305.3,245.8 302.9,246.0 300.6,246.1 298.2,246.2 295.8,246.2 293.4,246.1 291.0,246.0 288.6,245.8 286.2,245.3 283.9,244.5 281.5,243.7 279.1,242.8 276.7,242.0 274.3,241.3 271.9,240.4 269.5,239.4 267.1,238.3 264.8,237.3 262.4,236.3 260.0,235.4 257.6,234.3 255.2,232.9 252.8,231.3 250.4,229.5 248.1,227.4 245.7,225.1 243.3,222.5 240.9,219.7 238.5,216.6 236.1,213.5 233.7,210.4 231.3,207.5 229.0,204.7 226.6,202.0 224.2,199.4 221.8,196.9 219.4,194.8 217.0,193.1 214.6,191.7 212.3,190.4 209.9,189.3 207.5,188.4 205.1,187.8 202.7,187.5 200.3,187.3 197.9,187.1 195.6,187.0 193.2,186.8 190.8,186.8 188.4,186.7 186.0,186.6 183.6,186.7 181.2,186.9 178.8,187.1 176.5,187.4 174.1,187.8 171.7,188.2 169.3,188.7 166.9,189.2 164.5,189.9 162.1,190.7 159.8,191.6 157.4,192.5 155.0,193.4 152.6,194.4 150.2,195.4 147.8,196.5 145.4,197.6 143.0,198.8 140.7,200.0 138.3,201.3 135.9,202.5 135.1,203.7" fill="#f3a9bd" />
<polygon points="132.0,187.0 134.4,185.7 136.8,184.5 139.3,183.3 141.7,182.0 144.1,180.8 146.5,179.6 148.9,178.4 151.4,177.4 153.8,176.4 156.2,175.4 158.6,174.4 161.0,173.5 163.5,172.7 165.9,171.9 168.3,171.3 170.7,170.8 173.1,170.3 175.6,169.9 178.0,169.6 180.4,169.3 182.8,169.0 185.2,168.9 187.7,168.9 190.1,169.0 192.5,169.1 194.9,169.2 197.3,169.3 199.8,169.5 202.2,169.6 204.6,170.0 207.0,170.5 209.4,171.3 211.9,172.5 214.3,173.8 216.7,175.2 219.1,176.9 221.5,179.0 224.0,181.6 226.4,184.3 228.8,187.1 231.2,189.9 233.6,192.9 236.1,196.1 238.5,199.3 240.9,202.4 243.3,205.3 245.7,207.9 248.2,210.3 250.6,212.6 253.0,214.8 255.4,216.7 257.8,218.4 260.3,219.8 262.7,221.1 265.1,222.3 267.5,223.4 269.9,224.4 272.4,225.1 274.8,225.5 277.2,225.7 279.6,226.1 282.1,226.6 284.5,227.3 286.9,228.0 289.3,228.4 291.7,228.6 294.2,228.7 296.6,228.7 299.0,228.6 301.4,228.5 303.8,228.4 306.3,228.2 308.7,227.7 311.1,226.9 313.5,226.0 315.9,225.0 318.4,224.0 320.8,223.1 323.2,222.4 325.6,221.6 328.0,220.8 330.5,220.0 332.9,219.2 335.3,218.3 337.7,217.4 340.1,216.4 342.6,215.1 345.0,213.6 347.4,212.2 349.8,211.1 352.2,210.4 354.7,210.0 357.1,209.7 359.5,209.4 361.9,209.1 364.3,208.8 366.8,208.5 369.2,208.2 371.6,207.9 374.0,207.7 376.4,207.4 378.9,207.1 381.3,206.7 383.7,206.4 386.1,206.0 388.5,205.7 391.0,205.3 393.4,204.9 395.8,204.5 398.2,204.1 400.6,203.7 403.1,203.2 405.5,202.8 407.9,202.3 410.3,201.8 412.7,201.3 415.2,200.8 417.6,200.3 420.0,199.7 421.9,205.1 417.6,205.8 415.2,206.5 412.7,207.2 410.3,207.9 407.9,208.5 405.5,209.2 403.1,209.7 400.6,210.3 398.2,210.9 395.8,211.4 393.4,211.9 391.0,212.4 388.5,212.9 386.1,213.4 383.7,213.8 381.3,214.2 378.9,214.6 376.4,215.0 374.0,215.4 371.6,215.7 369.2,216.0 366.8,216.4 364.3,216.7 361.9,217.0 359.5,217.3 357.1,217.6 354.7,218.0 352.2,218.4 349.8,219.1 347.4,220.2 345.0,221.6 342.6,223.0 340.1,224.2 337.7,225.2 335.3,226.0 332.9,226.8 330.5,227.6 328.0,228.3 325.6,229.1 323.2,229.8 320.8,230.6 318.4,231.5 315.9,232.5 313.5,233.6 311.1,234.6 308.7,235.5 306.3,236.1 303.8,236.4 301.4,236.5 299.0,236.7 296.6,236.7 294.2,236.8 291.7,236.7 289.3,236.6 286.9,236.1 284.5,235.3 282.1,234.2 279.6,232.9 277.2,231.5 274.8,230.1 272.4,228.7 269.9,227.2 267.5,225.7 265.1,224.4 262.7,223.1 260.3,221.8 257.8,220.5 255.4,218.9 253.0,217.2 250.6,215.2 248.2,213.0 245.7,210.7 243.3,208.1 240.9,205.2 238.5,202.2 236.1,199.1 233.6,196.1 231.2,193.2 228.8,190.6 226.4,188.0 224.0,185.5 221.5,183.1 219.1,181.2 216.7,179.7 214.3,178.5 211.9,177.3 209.4,176.3 207.0,175.6 204.6,175.2 202.2,174.9 199.8,174.8 197.3,174.7 194.9,174.6 192.5,174.5 190.1,174.5 187.7,174.5 185.2,174.5 182.8,174.7 180.4,174.9 178.0,175.3 175.6,175.6 173.1,176.1 170.7,176.6 168.3,177.1 165.9,177.8 163.5,178.5 161.0,179.4 158.6,180.3 156.2,181.3 153.8,182.3 151.4,183.3 148.9,184.4 146.5,185.6 144.1,186.8 141.7,188.0 139.3,189.3 136.8,190.5 134.4,191.7 133.3,193.0" fill="#c7acd8" />
<polygon points="141.5,163.4 143.8,162.2 146.2,161.1 148.5,160.0 150.8,159.0 153.2,158.0 155.5,157.1 157.9,156.1 160.2,155.2 162.5,154.3 164.9,153.4 167.2,152.7 169.5,152.1 171.9,151.5 174.2,151.0 176.6,150.5 178.9,150.0 181.2,149.6 183.6,149.3 185.9,149.0 188.2,148.8 190.6,148.7 192.9,148.6 195.3,148.5 197.6,148.4 199.9,148.3 202.3,148.2 204.6,148.2 206.9,148.3 209.3,148.6 211.6,149.0 213.9,149.6 216.3,150.3 218.6,151.1 221.0,152.3 223.3,153.9 225.6,155.7 228.0,157.7 230.3,159.7 232.6,161.9 235.0,164.3 237.3,166.9 239.7,169.6 242.0,172.3 244.3,174.9 246.7,177.4 249.0,180.0 251.3,182.7 253.7,185.5 256.0,188.1 258.3,190.6 260.7,192.9 263.0,195.1 265.4,197.1 267.7,198.9 270.0,200.5 272.4,201.7 274.7,202.5 277.0,203.0 279.4,203.5 281.7,204.0 284.1,204.6 286.4,205.1 288.7,205.4 291.1,205.4 293.4,205.2 295.7,205.0 298.1,204.8 300.4,204.6 302.8,204.3 305.1,204.0 307.4,203.5 309.8,202.7 312.1,201.7 314.4,200.5 316.8,199.4 319.1,198.3 321.4,197.3 323.8,196.4 326.1,195.5 328.5,194.6 330.8,193.8 333.1,192.9 335.5,191.9 337.8,191.0 340.1,190.0 342.5,188.7 344.8,187.2 347.2,185.8 349.5,184.7 351.8,184.0 354.2,183.6 356.5,183.2 358.8,183.0 361.2,182.7 363.5,182.5 365.8,182.2 368.2,181.9 370.5,181.7 372.9,181.5 375.2,181.2 377.5,181.0 379.9,180.7 382.2,180.5 384.5,180.2 386.9,179.9 389.2,179.7 391.6,179.4 393.9,179.1 396.2,178.8 398.6,178.5 400.9,178.2 403.2,177.9 405.6,177.6 407.9,177.3 410.3,177.0 412.6,176.7 414.9,176.3 417.3,176.0 419.6,175.7 419.6,184.3 417.3,184.8 414.9,185.2 412.6,185.7 410.3,186.1 407.9,186.5 405.6,186.9 403.2,187.3 400.9,187.7 398.6,188.0 396.2,188.4 393.9,188.8 391.6,189.1 389.2,189.4 386.9,189.7 384.5,190.0 382.2,190.3 379.9,190.6 377.5,190.9 375.2,191.2 372.9,191.4 370.5,191.7 368.2,191.9 365.8,192.2 363.5,192.4 361.2,192.7 358.8,193.0 356.5,193.2 354.2,193.6 351.8,194.0 349.5,194.7 347.2,195.7 344.8,197.0 342.5,198.2 340.1,199.2 337.8,199.9 335.5,200.5 333.1,201.1 330.8,201.6 328.5,202.2 326.1,202.9 323.8,203.5 321.4,204.3 319.1,205.3 316.8,206.4 314.4,207.6 312.1,208.8 309.8,209.8 307.4,210.7 305.1,211.3 302.8,211.7 300.4,212.0 298.1,212.4 295.7,212.8 293.4,213.2 291.1,213.5 288.7,213.7 286.4,213.5 284.1,212.9 281.7,211.9 279.4,210.7 277.0,209.3 274.7,207.9 272.4,206.3 270.0,204.7 267.7,203.0 265.4,201.2 263.0,199.2 260.7,197.2 258.3,195.1 256.0,192.8 253.7,190.3 251.3,187.8 249.0,185.2 246.7,182.7 244.3,180.2 242.0,177.6 239.7,175.0 237.3,172.3 235.0,169.7 232.6,167.3 230.3,165.1 228.0,163.2 225.6,161.2 223.3,159.4 221.0,157.9 218.6,156.7 216.3,156.0 213.9,155.3 211.6,154.8 209.3,154.3 206.9,154.1 204.6,154.0 202.3,154.0 199.9,154.1 197.6,154.2 195.3,154.3 192.9,154.4 190.6,154.5 188.2,154.6 185.9,154.8 183.6,155.1 181.2,155.4 178.9,155.8 176.6,156.3 174.2,156.8 171.9,157.3 169.5,157.9 167.2,158.5 164.9,159.3 162.5,160.1 160.2,161.0 157.9,161.9 155.5,162.9 153.2,163.8 150.8,164.8 148.5,165.8 146.2,166.9 143.8,168.0 141.5,169.1" fill="url(#gp_perov)" />
<polygon points="132.0,173.0 134.4,171.9 136.9,170.8 139.3,169.7 141.7,168.5 144.1,167.4 146.6,166.2 149.0,165.1 151.4,164.1 153.8,163.1 156.3,162.1 158.7,161.1 161.1,160.1 163.5,159.2 166.0,158.4 168.4,157.7 170.8,157.1 173.2,156.5 175.7,156.0 178.1,155.5 180.5,155.0 182.9,154.7 185.4,154.4 187.8,154.2 190.2,154.0 192.7,153.9 195.1,153.8 197.5,153.7 199.9,153.6 202.4,153.5 204.8,153.5 207.2,153.6 209.6,153.9 212.1,154.4 214.5,155.0 216.9,155.7 219.3,156.5 221.8,157.9 224.2,159.6 226.6,161.5 229.0,163.6 231.5,165.7 233.9,168.0 236.3,170.7 238.7,173.4 241.2,176.2 243.6,178.9 246.0,181.5 248.5,184.1 250.9,186.8 253.3,189.4 255.7,192.0 258.2,194.4 260.6,196.6 263.0,198.7 265.4,200.7 267.9,202.6 270.3,204.4 272.7,206.1 275.1,207.6 277.6,209.1 280.0,210.5 282.4,211.8 284.8,212.6 287.3,213.1 289.7,213.2 292.1,212.9 294.5,212.5 297.0,212.1 299.4,211.7 301.8,211.3 304.2,210.9 306.7,210.4 309.1,209.6 311.5,208.5 314.0,207.3 316.4,206.1 318.8,204.9 321.2,203.9 323.7,203.1 326.1,202.4 328.5,201.7 330.9,201.1 333.4,200.5 335.8,199.9 338.2,199.3 340.6,198.5 343.1,197.4 345.5,196.1 347.9,194.9 350.3,193.9 352.8,193.3 355.2,192.9 357.6,192.6 360.0,192.3 362.5,192.1 364.9,191.8 367.3,191.5 369.8,191.2 372.2,191.0 374.6,190.7 377.0,190.5 379.5,190.2 381.9,189.9 384.3,189.6 386.7,189.3 389.2,188.9 391.6,188.6 394.0,188.2 396.4,187.9 398.9,187.5 401.3,187.1 403.7,186.7 406.1,186.3 408.6,185.9 411.0,185.5 413.4,185.0 415.8,184.5 418.3,184.1 420.7,183.6 426.5,199.7 418.3,200.3 415.8,200.8 413.4,201.4 411.0,201.9 408.6,202.4 406.1,202.9 403.7,203.3 401.3,203.8 398.9,204.2 396.4,204.6 394.0,205.0 391.6,205.4 389.2,205.8 386.7,206.2 384.3,206.5 381.9,206.9 379.5,207.2 377.0,207.5 374.6,207.8 372.2,208.1 369.8,208.4 367.3,208.6 364.9,208.9 362.5,209.2 360.0,209.5 357.6,209.8 355.2,210.1 352.8,210.5 350.3,211.1 347.9,212.1 345.5,213.5 343.1,215.0 340.6,216.3 338.2,217.4 335.8,218.3 333.4,219.2 330.9,220.0 328.5,220.8 326.1,221.6 323.7,222.4 321.2,223.2 318.8,224.0 316.4,225.0 314.0,226.0 311.5,227.0 309.1,227.8 306.7,228.3 304.2,228.6 301.8,228.7 299.4,228.8 297.0,228.9 294.5,228.9 292.1,228.9 289.7,228.8 287.3,228.4 284.8,227.8 282.4,227.0 280.0,226.4 277.6,226.0 275.1,225.8 272.7,225.4 270.3,224.7 267.9,223.7 265.4,222.6 263.0,221.5 260.6,220.2 258.2,218.8 255.7,217.1 253.3,215.2 250.9,213.1 248.5,210.8 246.0,208.4 243.6,205.8 241.2,202.9 238.7,199.8 236.3,196.6 233.9,193.4 231.5,190.4 229.0,187.6 226.6,184.8 224.2,182.0 221.8,179.5 219.3,177.3 216.9,175.6 214.5,174.1 212.1,172.8 209.6,171.6 207.2,170.7 204.8,170.2 202.4,169.9 199.9,169.7 197.5,169.5 195.1,169.4 192.7,169.3 190.2,169.2 187.8,169.1 185.4,169.1 182.9,169.2 180.5,169.4 178.1,169.7 175.7,170.1 173.2,170.5 170.8,171.0 168.4,171.5 166.0,172.1 163.5,172.8 161.1,173.7 158.7,174.6 156.3,175.6 153.8,176.5 151.4,177.5 149.0,178.6 146.6,179.8 144.1,181.0 141.7,182.2 139.3,183.5 136.9,184.7 134.4,185.9 135.1,187.2" fill="#e68c95" />
<line x1="140.8" y1="169.5" x2="143.5" y2="180.8" stroke="#d25f6c" stroke-width="0.7" opacity="0.56"/>
<line x1="142.5" y1="168.7" x2="145.6" y2="179.7" stroke="#d25f6c" stroke-width="0.7" opacity="0.49"/>
<line x1="148.6" y1="165.8" x2="150.0" y2="177.7" stroke="#d25f6c" stroke-width="0.7" opacity="0.33"/>
<line x1="151.5" y1="164.5" x2="145.5" y2="179.8" stroke="#d25f6c" stroke-width="0.7" opacity="0.38"/>
<line x1="158.7" y1="161.6" x2="153.9" y2="176.0" stroke="#d25f6c" stroke-width="0.7" opacity="0.34"/>
<line x1="160.2" y1="161.0" x2="155.0" y2="175.6" stroke="#d25f6c" stroke-width="0.7" opacity="0.52"/>
<line x1="169.6" y1="157.9" x2="165.3" y2="171.8" stroke="#d25f6c" stroke-width="0.7" opacity="0.68"/>
<line x1="178.5" y1="155.9" x2="181.0" y2="168.9" stroke="#d25f6c" stroke-width="0.7" opacity="0.52"/>
<line x1="191.1" y1="154.5" x2="194.0" y2="168.8" stroke="#d25f6c" stroke-width="0.7" opacity="0.41"/>
<line x1="192.3" y1="154.4" x2="198.2" y2="169.0" stroke="#d25f6c" stroke-width="0.7" opacity="0.64"/>
<line x1="192.8" y1="154.4" x2="196.0" y2="168.9" stroke="#d25f6c" stroke-width="0.7" opacity="0.49"/>
<line x1="197.0" y1="154.2" x2="201.8" y2="169.3" stroke="#d25f6c" stroke-width="0.7" opacity="0.60"/>
<line x1="197.8" y1="154.2" x2="200.1" y2="169.2" stroke="#d25f6c" stroke-width="0.7" opacity="0.67"/>
<line x1="199.4" y1="154.1" x2="201.3" y2="169.3" stroke="#d25f6c" stroke-width="0.7" opacity="0.45"/>
<line x1="202.8" y1="154.0" x2="203.6" y2="169.5" stroke="#d25f6c" stroke-width="0.7" opacity="0.38"/>
<line x1="207.5" y1="154.1" x2="203.2" y2="169.5" stroke="#d25f6c" stroke-width="0.7" opacity="0.59"/>
<line x1="210.4" y1="154.5" x2="214.4" y2="173.5" stroke="#d25f6c" stroke-width="0.7" opacity="0.69"/>
<line x1="212.9" y1="155.1" x2="217.8" y2="175.6" stroke="#d25f6c" stroke-width="0.7" opacity="0.52"/>
<line x1="213.0" y1="155.1" x2="207.3" y2="170.3" stroke="#d25f6c" stroke-width="0.7" opacity="0.50"/>
<line x1="214.4" y1="155.5" x2="220.4" y2="177.7" stroke="#d25f6c" stroke-width="0.7" opacity="0.62"/>
<line x1="214.4" y1="155.5" x2="214.2" y2="173.5" stroke="#d25f6c" stroke-width="0.7" opacity="0.48"/>
<line x1="216.5" y1="156.0" x2="212.6" y2="172.5" stroke="#d25f6c" stroke-width="0.7" opacity="0.37"/>
<line x1="216.8" y1="156.1" x2="210.8" y2="171.7" stroke="#d25f6c" stroke-width="0.7" opacity="0.66"/>
<line x1="220.9" y1="157.9" x2="222.9" y2="180.1" stroke="#d25f6c" stroke-width="0.7" opacity="0.36"/>
<line x1="226.4" y1="161.9" x2="225.2" y2="182.7" stroke="#d25f6c" stroke-width="0.7" opacity="0.32"/>
<line x1="230.4" y1="165.2" x2="226.3" y2="183.9" stroke="#d25f6c" stroke-width="0.7" opacity="0.59"/>
<line x1="236.6" y1="171.4" x2="238.7" y2="199.2" stroke="#d25f6c" stroke-width="0.7" opacity="0.49"/>
<line x1="236.7" y1="171.6" x2="233.6" y2="192.5" stroke="#d25f6c" stroke-width="0.7" opacity="0.56"/>
<line x1="240.0" y1="175.3" x2="246.4" y2="208.2" stroke="#d25f6c" stroke-width="0.7" opacity="0.47"/>
<line x1="241.2" y1="176.8" x2="235.2" y2="194.6" stroke="#d25f6c" stroke-width="0.7" opacity="0.32"/>
<line x1="244.1" y1="179.9" x2="238.2" y2="198.6" stroke="#d25f6c" stroke-width="0.7" opacity="0.68"/>
<line x1="249.3" y1="185.6" x2="249.9" y2="211.7" stroke="#d25f6c" stroke-width="0.7" opacity="0.63"/>
<line x1="251.8" y1="188.2" x2="247.1" y2="209.0" stroke="#d25f6c" stroke-width="0.7" opacity="0.40"/>
<line x1="259.0" y1="195.6" x2="261.6" y2="220.3" stroke="#d25f6c" stroke-width="0.7" opacity="0.66"/>
<line x1="259.1" y1="195.7" x2="256.8" y2="217.4" stroke="#d25f6c" stroke-width="0.7" opacity="0.33"/>
<line x1="260.3" y1="196.8" x2="265.4" y2="222.1" stroke="#d25f6c" stroke-width="0.7" opacity="0.42"/>
<line x1="263.0" y1="199.2" x2="266.4" y2="222.6" stroke="#d25f6c" stroke-width="0.7" opacity="0.36"/>
<line x1="263.6" y1="199.7" x2="266.3" y2="222.6" stroke="#d25f6c" stroke-width="0.7" opacity="0.64"/>
<line x1="263.8" y1="199.9" x2="267.0" y2="222.9" stroke="#d25f6c" stroke-width="0.7" opacity="0.44"/>
<line x1="267.0" y1="202.5" x2="270.2" y2="224.2" stroke="#d25f6c" stroke-width="0.7" opacity="0.36"/>
<line x1="271.2" y1="205.5" x2="268.6" y2="223.5" stroke="#d25f6c" stroke-width="0.7" opacity="0.47"/>
<line x1="278.9" y1="210.4" x2="284.2" y2="227.0" stroke="#d25f6c" stroke-width="0.7" opacity="0.36"/>
<line x1="279.8" y1="210.9" x2="285.2" y2="227.3" stroke="#d25f6c" stroke-width="0.7" opacity="0.62"/>
<line x1="288.5" y1="213.7" x2="295.1" y2="228.4" stroke="#d25f6c" stroke-width="0.7" opacity="0.45"/>
<line x1="290.3" y1="213.6" x2="286.1" y2="227.6" stroke="#d25f6c" stroke-width="0.7" opacity="0.40"/>
<line x1="292.3" y1="213.4" x2="296.8" y2="228.4" stroke="#d25f6c" stroke-width="0.7" opacity="0.69"/>
<line x1="292.5" y1="213.3" x2="295.3" y2="228.4" stroke="#d25f6c" stroke-width="0.7" opacity="0.49"/>
<line x1="296.5" y1="212.7" x2="293.5" y2="228.4" stroke="#d25f6c" stroke-width="0.7" opacity="0.63"/>
<line x1="300.3" y1="212.1" x2="305.5" y2="228.0" stroke="#d25f6c" stroke-width="0.7" opacity="0.34"/>
<line x1="301.6" y1="211.9" x2="297.7" y2="228.4" stroke="#d25f6c" stroke-width="0.7" opacity="0.63"/>
<line x1="318.2" y1="205.7" x2="323.0" y2="222.1" stroke="#d25f6c" stroke-width="0.7" opacity="0.43"/>
<line x1="319.4" y1="205.2" x2="316.3" y2="224.5" stroke="#d25f6c" stroke-width="0.7" opacity="0.47"/>
<line x1="323.5" y1="203.6" x2="324.1" y2="221.8" stroke="#d25f6c" stroke-width="0.7" opacity="0.34"/>
<line x1="324.8" y1="203.2" x2="329.5" y2="220.0" stroke="#d25f6c" stroke-width="0.7" opacity="0.51"/>
<line x1="325.9" y1="202.9" x2="329.7" y2="219.9" stroke="#d25f6c" stroke-width="0.7" opacity="0.39"/>
<line x1="329.5" y1="202.0" x2="336.0" y2="217.7" stroke="#d25f6c" stroke-width="0.7" opacity="0.60"/>
<line x1="330.1" y1="201.8" x2="327.9" y2="220.5" stroke="#d25f6c" stroke-width="0.7" opacity="0.68"/>
<line x1="330.6" y1="201.7" x2="333.5" y2="218.6" stroke="#d25f6c" stroke-width="0.7" opacity="0.64"/>
<line x1="334.8" y1="200.7" x2="328.4" y2="220.4" stroke="#d25f6c" stroke-width="0.7" opacity="0.32"/>
<line x1="334.9" y1="200.7" x2="338.3" y2="216.8" stroke="#d25f6c" stroke-width="0.7" opacity="0.42"/>
<line x1="345.9" y1="196.4" x2="346.1" y2="212.6" stroke="#d25f6c" stroke-width="0.7" opacity="0.36"/>
<line x1="355.4" y1="193.4" x2="362.1" y2="208.8" stroke="#d25f6c" stroke-width="0.7" opacity="0.50"/>
<line x1="373.9" y1="191.3" x2="378.5" y2="206.8" stroke="#d25f6c" stroke-width="0.7" opacity="0.33"/>
<line x1="378.1" y1="190.8" x2="377.8" y2="206.9" stroke="#d25f6c" stroke-width="0.7" opacity="0.32"/>
<line x1="387.3" y1="189.7" x2="392.7" y2="204.7" stroke="#d25f6c" stroke-width="0.7" opacity="0.48"/>
<line x1="388.3" y1="189.5" x2="382.2" y2="206.3" stroke="#d25f6c" stroke-width="0.7" opacity="0.33"/>
<line x1="390.1" y1="189.3" x2="390.7" y2="205.1" stroke="#d25f6c" stroke-width="0.7" opacity="0.33"/>
<line x1="399.7" y1="187.9" x2="395.2" y2="204.3" stroke="#d25f6c" stroke-width="0.7" opacity="0.47"/>
<line x1="409.6" y1="186.2" x2="409.6" y2="201.7" stroke="#d25f6c" stroke-width="0.7" opacity="0.53"/>
<line x1="410.9" y1="186.0" x2="412.6" y2="201.1" stroke="#d25f6c" stroke-width="0.7" opacity="0.45"/>
<polygon points="142.5,149.7 144.8,148.5 147.2,147.4 149.5,146.3 151.8,145.2 154.1,144.2 156.5,143.2 158.8,142.2 161.1,141.2 163.5,140.3 165.8,139.5 168.1,138.7 170.4,138.1 172.8,137.5 175.1,137.0 177.4,136.5 179.8,136.0 182.1,135.6 184.4,135.2 186.7,135.0 189.1,134.8 191.4,134.7 193.7,134.6 196.1,134.4 198.4,134.3 200.7,134.3 203.0,134.2 205.4,134.2 207.7,134.4 210.0,134.7 212.4,135.2 214.7,135.9 217.0,136.5 219.3,137.4 221.7,138.8 224.0,140.5 226.3,142.4 228.7,144.4 231.0,146.4 233.3,148.6 235.6,151.1 238.0,153.8 240.3,156.5 242.6,159.1 245.0,161.7 247.3,164.1 249.6,166.6 251.9,169.2 254.3,171.6 256.6,174.0 258.9,176.1 261.3,178.1 263.6,179.9 265.9,181.7 268.2,183.4 270.6,184.9 272.9,186.2 275.2,187.3 277.6,188.4 279.9,189.4 282.2,190.4 284.5,191.3 286.9,191.7 289.2,191.6 291.5,191.2 293.9,190.6 296.2,190.1 298.5,189.6 300.8,189.3 303.2,189.1 305.5,188.9 307.8,188.5 310.2,187.8 312.5,187.0 314.8,186.0 317.1,185.1 319.5,184.1 321.8,183.2 324.1,182.4 326.5,181.5 328.8,180.6 331.1,179.6 333.4,178.7 335.8,177.7 338.1,176.7 340.4,175.6 342.8,174.2 345.1,172.7 347.4,171.3 349.7,170.2 352.1,169.6 354.4,169.2 356.7,168.8 359.1,168.5 361.4,168.3 363.7,168.0 366.0,167.8 368.4,167.5 370.7,167.3 373.0,167.1 375.4,166.8 377.7,166.6 380.0,166.4 382.3,166.1 384.7,165.8 387.0,165.6 389.3,165.3 391.7,165.1 394.0,164.8 396.3,164.5 398.6,164.2 401.0,164.0 403.3,163.7 405.6,163.4 408.0,163.1 410.3,162.8 412.6,162.5 414.9,162.3 417.3,162.0 419.6,161.7 419.6,169.3 417.3,169.6 414.9,169.9 412.6,170.1 410.3,170.4 408.0,170.7 405.6,171.0 403.3,171.3 401.0,171.6 398.6,171.8 396.3,172.1 394.0,172.4 391.7,172.7 389.3,172.9 387.0,173.2 384.7,173.4 382.3,173.7 380.0,174.0 377.7,174.2 375.4,174.4 373.0,174.7 370.7,174.9 368.4,175.1 366.0,175.4 363.7,175.6 361.4,175.9 359.1,176.1 356.7,176.4 354.4,176.8 352.1,177.2 349.7,177.8 347.4,178.8 345.1,179.9 342.8,181.1 340.4,181.9 338.1,182.4 335.8,182.9 333.4,183.2 331.1,183.6 328.8,184.0 326.5,184.5 324.1,185.0 321.8,185.7 319.5,186.6 317.1,187.7 314.8,188.9 312.5,190.1 310.2,191.2 307.8,192.1 305.5,192.8 303.2,193.1 300.8,193.5 298.5,193.8 296.2,194.1 293.9,194.3 291.5,194.4 289.2,194.5 286.9,194.3 284.5,193.7 282.2,193.0 279.9,192.1 277.6,191.1 275.2,190.1 272.9,189.1 270.6,187.8 268.2,186.4 265.9,184.9 263.6,183.2 261.3,181.4 258.9,179.6 256.6,177.6 254.3,175.4 251.9,173.0 249.6,170.6 247.3,168.2 245.0,165.9 242.6,163.4 240.3,160.9 238.0,158.3 235.6,155.8 233.3,153.5 231.0,151.4 228.7,149.6 226.3,147.7 224.0,146.0 221.7,144.5 219.3,143.3 217.0,142.6 214.7,142.0 212.4,141.5 210.0,141.1 207.7,140.9 205.4,140.8 203.0,140.8 200.7,140.9 198.4,140.9 196.1,141.0 193.7,141.2 191.4,141.3 189.1,141.5 186.7,141.6 184.4,141.9 182.1,142.2 179.8,142.7 177.4,143.1 175.1,143.7 172.8,144.2 170.4,144.8 168.1,145.5 165.8,146.2 163.5,147.0 161.1,147.9 158.8,148.9 156.5,149.8 154.1,150.8 151.8,151.8 149.5,152.8 147.2,153.9 144.8,155.0 142.5,156.1" fill="url(#gp_c60)" />
<polygon points="134.5,159.3 136.9,158.2 139.3,157.1 141.7,156.0 144.1,154.8 146.5,153.7 148.9,152.6 151.3,151.5 153.7,150.5 156.1,149.5 158.5,148.5 160.9,147.5 163.2,146.6 165.6,145.7 168.0,145.0 170.4,144.3 172.8,143.7 175.2,143.1 177.6,142.6 180.0,142.1 182.4,141.7 184.8,141.3 187.2,141.1 189.6,140.9 192.0,140.8 194.4,140.6 196.8,140.5 199.2,140.4 201.6,140.3 204.0,140.3 206.4,140.3 208.8,140.5 211.2,140.8 213.6,141.3 216.0,141.8 218.4,142.5 220.7,143.5 223.1,144.9 225.5,146.6 227.9,148.5 230.3,150.4 232.7,152.4 235.1,154.8 237.5,157.3 239.9,160.0 242.3,162.6 244.7,165.1 247.1,167.5 249.5,170.0 251.9,172.5 254.3,174.9 256.7,177.2 259.1,179.2 261.5,181.1 263.9,182.9 266.3,184.6 268.7,186.2 271.1,187.6 273.5,188.8 275.9,189.9 278.2,190.9 280.6,191.9 283.0,192.8 285.4,193.5 287.8,193.9 290.2,194.0 292.6,193.9 295.0,193.7 297.4,193.4 299.8,193.1 302.2,192.8 304.6,192.4 307.0,191.9 309.4,191.0 311.8,189.9 314.2,188.7 316.6,187.5 319.0,186.3 321.4,185.4 323.8,184.6 326.2,184.0 328.6,183.5 331.0,183.1 333.4,182.7 335.7,182.4 338.1,181.9 340.5,181.4 342.9,180.5 345.3,179.3 347.7,178.1 350.1,177.1 352.5,176.6 354.9,176.2 357.3,175.8 359.7,175.6 362.1,175.3 364.5,175.1 366.9,174.8 369.3,174.5 371.7,174.3 374.1,174.1 376.5,173.8 378.9,173.6 381.3,173.3 383.7,173.1 386.1,172.8 388.5,172.5 390.9,172.2 393.2,172.0 395.6,171.7 398.0,171.4 400.4,171.1 402.8,170.8 405.2,170.6 407.6,170.3 410.0,170.0 412.4,169.7 414.8,169.4 417.2,169.1 419.6,168.8 422.3,176.2 417.2,176.5 414.8,176.9 412.4,177.2 410.0,177.5 407.6,177.8 405.2,178.2 402.8,178.5 400.4,178.8 398.0,179.1 395.6,179.4 393.2,179.7 390.9,180.0 388.5,180.3 386.1,180.5 383.7,180.8 381.3,181.1 378.9,181.3 376.5,181.6 374.1,181.8 371.7,182.1 369.3,182.3 366.9,182.6 364.5,182.8 362.1,183.1 359.7,183.4 357.3,183.6 354.9,184.0 352.5,184.4 350.1,184.9 347.7,186.0 345.3,187.4 342.9,188.9 340.5,190.3 338.1,191.4 335.7,192.3 333.4,193.3 331.0,194.2 328.6,195.1 326.2,196.0 323.8,196.9 321.4,197.8 319.0,198.8 316.6,200.0 314.2,201.1 311.8,202.3 309.4,203.3 307.0,204.1 304.6,204.6 302.2,204.9 299.8,205.1 297.4,205.4 295.0,205.6 292.6,205.8 290.2,205.9 287.8,205.8 285.4,205.4 283.0,204.8 280.6,204.2 278.2,203.7 275.9,203.2 273.5,202.6 271.1,201.6 268.7,200.1 266.3,198.3 263.9,196.3 261.5,194.2 259.1,191.9 256.7,189.4 254.3,186.7 251.9,183.9 249.5,181.1 247.1,178.4 244.7,175.8 242.3,173.2 239.9,170.4 237.5,167.7 235.1,165.0 232.7,162.5 230.3,160.2 227.9,158.2 225.5,156.1 223.1,154.3 220.7,152.7 218.4,151.5 216.0,150.7 213.6,150.0 211.2,149.4 208.8,149.0 206.4,148.7 204.0,148.7 201.6,148.7 199.2,148.8 196.8,148.9 194.4,149.0 192.0,149.1 189.6,149.3 187.2,149.4 184.8,149.6 182.4,149.9 180.0,150.3 177.6,150.8 175.2,151.3 172.8,151.8 170.4,152.4 168.0,153.0 165.6,153.7 163.2,154.5 160.9,155.4 158.5,156.4 156.1,157.3 153.7,158.3 151.3,159.3 148.9,160.4 146.5,161.5 144.1,162.6 141.7,163.8 139.3,164.9 136.9,166.1 136.2,167.2" fill="#2e86a1" />
<polygon points="142.5,137.9 144.8,136.9 147.2,136.0 149.5,135.0 151.9,134.1 154.2,133.3 156.5,132.4 158.9,131.5 161.2,130.7 163.5,129.9 165.9,129.1 168.2,128.5 170.6,128.0 172.9,127.4 175.2,127.0 177.6,126.5 179.9,126.1 182.2,125.7 184.6,125.4 186.9,125.2 189.3,125.1 191.6,124.9 193.9,124.8 196.3,124.7 198.6,124.6 200.9,124.6 203.3,124.5 205.6,124.5 208.0,124.5 210.3,124.8 212.6,125.2 215.0,125.6 217.3,126.1 219.6,126.9 222.0,128.0 224.3,129.5 226.7,131.2 229.0,133.0 231.3,134.9 233.7,137.0 236.0,139.4 238.4,141.9 240.7,144.5 243.0,147.1 245.4,149.6 247.7,152.2 250.0,154.9 252.4,157.8 254.7,160.6 257.1,163.3 259.4,165.8 261.7,168.2 264.1,170.4 266.4,172.4 268.7,174.2 271.1,175.6 273.4,176.6 275.8,177.2 278.1,177.7 280.4,178.1 282.8,178.5 285.1,179.0 287.4,179.2 289.8,179.1 292.1,178.8 294.5,178.4 296.8,178.1 299.1,177.8 301.5,177.6 303.8,177.5 306.1,177.4 308.5,177.1 310.8,176.6 313.2,175.9 315.5,175.1 317.8,174.3 320.2,173.5 322.5,172.8 324.8,172.0 327.2,171.3 329.5,170.5 331.9,169.6 334.2,168.8 336.5,167.9 338.9,166.9 341.2,165.8 343.6,164.5 345.9,163.0 348.2,161.6 350.6,160.7 352.9,160.2 355.2,159.8 357.6,159.5 359.9,159.2 362.3,159.0 364.6,158.7 366.9,158.5 369.3,158.2 371.6,158.0 373.9,157.8 376.3,157.5 378.6,157.3 381.0,157.1 383.3,156.8 385.6,156.6 388.0,156.3 390.3,156.0 392.6,155.8 395.0,155.5 397.3,155.3 399.7,155.0 402.0,154.7 404.3,154.5 406.7,154.2 409.0,153.9 411.3,153.6 413.7,153.4 416.0,153.1 418.4,152.8 420.7,152.5 420.7,154.5 418.4,154.8 416.0,155.0 413.7,155.3 411.3,155.6 409.0,155.8 406.7,156.1 404.3,156.4 402.0,156.6 399.7,156.9 397.3,157.1 395.0,157.4 392.6,157.6 390.3,157.9 388.0,158.1 385.6,158.4 383.3,158.6 381.0,158.9 378.6,159.1 376.3,159.4 373.9,159.6 371.6,159.8 369.3,160.0 366.9,160.3 364.6,160.5 362.3,160.8 359.9,161.0 357.6,161.3 355.2,161.6 352.9,162.0 350.6,162.5 348.2,163.4 345.9,164.8 343.6,166.2 341.2,167.6 338.9,168.6 336.5,169.5 334.2,170.4 331.9,171.2 329.5,171.9 327.2,172.7 324.8,173.4 322.5,174.1 320.2,174.8 317.8,175.6 315.5,176.4 313.2,177.2 310.8,177.9 308.5,178.4 306.1,178.7 303.8,178.8 301.5,179.0 299.1,179.2 296.8,179.5 294.5,179.8 292.1,180.1 289.8,180.4 287.4,180.5 285.1,180.3 282.8,179.8 280.4,179.5 278.1,179.2 275.8,178.8 273.4,178.3 271.1,177.4 268.7,176.0 266.4,174.3 264.1,172.5 261.7,170.5 259.4,168.4 257.1,166.2 254.7,163.7 252.4,161.1 250.0,158.5 247.7,155.9 245.4,153.4 243.0,150.9 240.7,148.3 238.4,145.6 236.0,143.0 233.7,140.5 231.3,138.3 229.0,136.4 226.7,134.4 224.3,132.6 222.0,131.0 219.6,129.7 217.3,128.9 215.0,128.2 212.6,127.7 210.3,127.2 208.0,126.9 205.6,126.8 203.3,126.8 200.9,126.9 198.6,126.9 196.3,127.0 193.9,127.2 191.6,127.3 189.3,127.5 186.9,127.6 184.6,127.9 182.2,128.2 179.9,128.7 177.6,129.2 175.2,129.7 172.9,130.3 170.6,130.9 168.2,131.5 165.9,132.3 163.5,133.2 161.2,134.1 158.9,135.1 156.5,136.1 154.2,137.2 151.9,138.2 149.5,139.3 147.2,140.4 144.8,141.6 142.5,142.8" fill="url(#gp_bcp)" />
<polygon points="135.5,145.8 137.9,144.6 140.3,143.4 142.7,142.2 145.1,140.9 147.5,139.7 149.9,138.6 152.3,137.5 154.7,136.4 157.2,135.3 159.6,134.3 162.0,133.3 164.4,132.4 166.8,131.5 169.2,130.8 171.6,130.1 174.0,129.5 176.4,128.9 178.8,128.4 181.2,127.9 183.6,127.5 186.0,127.2 188.4,127.0 190.8,126.9 193.2,126.7 195.6,126.6 198.1,126.5 200.5,126.4 202.9,126.3 205.3,126.3 207.7,126.4 210.1,126.7 212.5,127.2 214.9,127.7 217.3,128.4 219.7,129.2 222.1,130.6 224.5,132.3 226.9,134.2 229.3,136.1 231.7,138.2 234.1,140.5 236.5,143.1 239.0,145.8 241.4,148.5 243.8,151.2 246.2,153.7 248.6,156.4 251.0,159.1 253.4,161.8 255.8,164.4 258.2,166.8 260.6,169.0 263.0,171.1 265.4,173.1 267.8,174.9 270.2,176.4 272.6,177.6 275.0,178.2 277.4,178.6 279.9,178.9 282.3,179.3 284.7,179.7 287.1,180.0 289.5,180.0 291.9,179.7 294.3,179.3 296.7,179.0 299.1,178.7 301.5,178.5 303.9,178.3 306.3,178.2 308.7,177.9 311.1,177.3 313.5,176.6 315.9,175.8 318.3,174.9 320.8,174.2 323.2,173.4 325.6,172.7 328.0,171.9 330.4,171.2 332.8,170.4 335.2,169.5 337.6,168.6 340.0,167.6 342.4,166.4 344.8,164.9 347.2,163.5 349.6,162.3 352.0,161.7 354.4,161.2 356.8,160.9 359.2,160.6 361.7,160.4 364.1,160.1 366.5,159.8 368.9,159.6 371.3,159.3 373.7,159.1 376.1,158.9 378.5,158.6 380.9,158.4 383.3,158.1 385.7,157.9 388.1,157.6 390.5,157.4 392.9,157.1 395.3,156.8 397.7,156.6 400.1,156.3 402.6,156.0 405.0,155.8 407.4,155.5 409.8,155.2 412.2,155.0 414.6,154.7 417.0,154.4 419.4,154.2 421.8,153.9 424.7,161.9 419.4,162.2 417.0,162.5 414.6,162.8 412.2,163.1 409.8,163.4 407.4,163.7 405.0,164.0 402.6,164.3 400.1,164.6 397.7,164.8 395.3,165.1 392.9,165.4 390.5,165.7 388.1,166.0 385.7,166.2 383.3,166.5 380.9,166.8 378.5,167.0 376.1,167.3 373.7,167.5 371.3,167.7 368.9,168.0 366.5,168.2 364.1,168.5 361.7,168.8 359.2,169.0 356.8,169.3 354.4,169.6 352.0,170.1 349.6,170.7 347.2,171.9 344.8,173.4 342.4,175.0 340.0,176.3 337.6,177.4 335.2,178.5 332.8,179.5 330.4,180.4 328.0,181.4 325.6,182.3 323.2,183.2 320.8,184.1 318.3,185.1 315.9,186.1 313.5,187.1 311.1,188.0 308.7,188.8 306.3,189.3 303.9,189.5 301.5,189.8 299.1,190.0 296.7,190.5 294.3,191.0 291.9,191.6 289.5,192.1 287.1,192.2 284.7,191.8 282.3,190.9 279.9,189.9 277.4,188.8 275.0,187.7 272.6,186.5 270.2,185.2 267.8,183.6 265.4,181.8 263.0,180.0 260.6,178.0 258.2,176.0 255.8,173.7 253.4,171.2 251.0,168.6 248.6,166.0 246.2,163.4 243.8,160.9 241.4,158.2 239.0,155.4 236.5,152.7 234.1,150.0 231.7,147.6 229.3,145.4 226.9,143.4 224.5,141.4 222.1,139.6 219.7,138.1 217.3,137.1 214.9,136.4 212.5,135.8 210.1,135.2 207.7,134.9 205.3,134.7 202.9,134.7 200.5,134.8 198.1,134.8 195.6,135.0 193.2,135.1 190.8,135.2 188.4,135.4 186.0,135.6 183.6,135.8 181.2,136.2 178.8,136.7 176.4,137.2 174.0,137.7 171.6,138.3 169.2,138.9 166.8,139.7 164.4,140.5 162.0,141.4 159.6,142.4 157.2,143.4 154.7,144.4 152.3,145.5 149.9,146.5 147.5,147.7 145.1,148.9 142.7,150.1 140.3,151.3 137.9,152.5 137.2,153.7" fill="#4ba17f" />
<polygon points="135.5,135.3 137.9,134.3 140.3,133.3 142.7,132.3 145.1,131.3 147.5,130.3 149.9,129.3 152.3,128.4 154.7,127.6 157.1,126.7 159.5,125.8 161.9,125.0 164.3,124.2 166.7,123.5 169.1,122.8 171.4,122.3 173.8,121.8 176.2,121.3 178.6,120.9 181.0,120.5 183.4,120.2 185.8,119.9 188.2,119.8 190.6,119.7 193.0,119.6 195.4,119.4 197.8,119.4 200.2,119.3 202.6,119.2 205.0,119.2 207.4,119.2 209.8,119.5 212.2,119.9 214.6,120.4 217.0,121.0 219.4,121.7 221.8,123.0 224.2,124.5 226.6,126.3 229.0,128.2 231.4,130.2 233.8,132.4 236.2,134.9 238.6,137.6 241.0,140.3 243.3,142.9 245.7,145.5 248.1,148.2 250.5,151.0 252.9,153.9 255.3,156.8 257.7,159.6 260.1,162.1 262.5,164.4 264.9,166.6 267.3,168.6 269.7,170.3 272.1,171.6 274.5,172.2 276.9,172.4 279.3,172.6 281.7,172.9 284.1,173.3 286.5,173.7 288.9,173.8 291.3,173.6 293.7,173.3 296.1,173.1 298.5,172.8 300.9,172.5 303.3,172.4 305.7,172.3 308.1,172.0 310.5,171.5 312.9,170.9 315.2,170.1 317.6,169.2 320.0,168.4 322.4,167.6 324.8,166.8 327.2,166.0 329.6,165.1 332.0,164.3 334.4,163.4 336.8,162.4 339.2,161.4 341.6,160.2 344.0,158.8 346.4,157.3 348.8,156.0 351.2,155.2 353.6,154.7 356.0,154.3 358.4,154.0 360.8,153.8 363.2,153.5 365.6,153.2 368.0,153.0 370.4,152.7 372.8,152.5 375.2,152.2 377.6,152.0 380.0,151.8 382.4,151.5 384.8,151.2 387.1,151.0 389.5,150.7 391.9,150.4 394.3,150.2 396.7,149.9 399.1,149.6 401.5,149.3 403.9,149.1 406.3,148.8 408.7,148.5 411.1,148.2 413.5,147.9 415.9,147.6 418.3,147.3 420.7,147.0 422.9,153.0 418.3,153.3 415.9,153.6 413.5,153.9 411.1,154.2 408.7,154.4 406.3,154.7 403.9,155.0 401.5,155.3 399.1,155.6 396.7,155.8 394.3,156.1 391.9,156.4 389.5,156.6 387.1,156.9 384.8,157.2 382.4,157.4 380.0,157.7 377.6,157.9 375.2,158.2 372.8,158.4 370.4,158.6 368.0,158.9 365.6,159.1 363.2,159.4 360.8,159.7 358.4,159.9 356.0,160.2 353.6,160.6 351.2,161.1 348.8,161.9 346.4,163.2 344.0,164.7 341.6,166.1 339.2,167.3 336.8,168.3 334.4,169.2 332.0,170.1 329.6,170.9 327.2,171.8 324.8,172.5 322.4,173.3 320.0,174.1 317.6,174.9 315.2,175.7 312.9,176.5 310.5,177.2 308.1,177.7 305.7,177.9 303.3,178.0 300.9,178.1 298.5,178.4 296.1,178.7 293.7,179.1 291.3,179.4 288.9,179.7 286.5,179.6 284.1,179.3 281.7,178.8 279.3,178.4 276.9,177.9 274.5,177.4 272.1,176.6 269.7,175.3 267.3,173.6 264.9,171.6 262.5,169.4 260.1,167.1 257.7,164.6 255.3,161.8 252.9,158.9 250.5,156.0 248.1,153.2 245.7,150.5 243.3,147.9 241.0,145.3 238.6,142.6 236.2,140.0 233.8,137.6 231.4,135.4 229.0,133.5 226.6,131.7 224.2,129.9 221.8,128.4 219.4,127.3 217.0,126.6 214.6,126.0 212.2,125.6 209.8,125.2 207.4,125.0 205.0,125.0 202.6,125.0 200.2,125.1 197.8,125.2 195.4,125.3 193.0,125.4 190.6,125.5 188.2,125.6 185.8,125.8 183.4,126.0 181.0,126.4 178.6,126.8 176.2,127.2 173.8,127.7 171.4,128.3 169.1,128.8 166.7,129.4 164.3,130.1 161.9,130.9 159.5,131.8 157.1,132.7 154.7,133.6 152.3,134.5 149.9,135.4 147.5,136.3 145.1,137.3 142.7,138.3 140.3,139.4 137.9,140.3 136.8,141.3" fill="url(#agface)" />
<polyline points="266.0,178.5 268.1,180.0 270.1,181.3 272.2,182.5 274.3,183.6 276.3,184.5 278.4,185.5 280.5,186.4 282.6,187.3 284.6,188.0 286.7,188.5 288.8,188.8 290.8,188.9 292.9,188.8 295.0,188.7 297.0,188.6 299.1,188.4 301.2,188.2 303.2,187.9 305.3,187.7 307.4,187.2 309.4,186.5 311.5,185.6 313.6,184.6 315.7,183.6 317.7,182.6 319.8,181.7 321.9,180.8 323.9,180.0 326.0,179.2" fill="none" stroke="#fff" stroke-width="2.2" stroke-linecap="round" opacity="0.38" filter="url(#hl)"/>
<polyline points="268.0,192.2 270.1,193.6 272.3,194.8 274.4,195.9 276.6,196.9 278.7,197.9 280.8,198.8 283.0,199.7 285.1,200.4 287.2,200.9 289.4,201.2 291.5,201.2 293.7,201.1 295.8,201.0 297.9,200.8 300.1,200.6 302.2,200.4 304.3,200.1 306.5,199.7 308.6,199.1 310.8,198.3 312.9,197.3 315.0,196.2 317.2,195.2 319.3,194.2 321.4,193.3 323.6,192.4 325.7,191.6 327.9,190.7 330.0,189.8" fill="none" stroke="#fff" stroke-width="2.4" stroke-linecap="round" opacity="0.33" filter="url(#hl)"/>
<polyline points="262.0,167.1 264.1,168.7 266.1,170.2 268.2,171.6 270.3,173.0 272.3,174.2 274.4,175.2 276.5,176.2 278.6,177.1 280.6,178.1 282.7,178.9 284.8,179.6 286.8,180.2 288.9,180.5 291.0,180.5 293.0,180.4 295.1,180.3 297.2,180.2 299.2,180.0 301.3,179.8 303.4,179.5 305.4,179.2 307.5,178.8 309.6,178.0 311.7,177.2 313.7,176.2 315.8,175.1 317.9,174.1 319.9,173.2 322.0,172.4" fill="none" stroke="#fff" stroke-width="1.8" stroke-linecap="round" opacity="0.55" filter="url(#hl)"/>
<polyline points="300.0,216.1 301.6,215.9 303.1,215.7 304.7,215.5 306.2,215.3 307.8,214.9 309.3,214.3 310.9,213.7 312.4,213.0 314.0,212.3 315.5,211.5 317.1,210.7 318.6,210.0 320.2,209.3 321.7,208.7 323.3,208.1 324.8,207.4 326.4,206.8 327.9,206.2 329.5,205.5 331.0,204.9 332.6,204.2 334.1,203.5 335.7,202.8 337.2,202.1 338.8,201.4 340.3,200.6 341.9,199.7 343.4,198.7 345.0,197.7" fill="none" stroke="#fff" stroke-width="2.5" stroke-linecap="round" opacity="0.18" filter="url(#hl)"/>
</g>
<line x1="412" y1="144.6" x2="426.5" y2="144.6" stroke="#2a2a2a" stroke-width="1.4"/>
<text x="431.8" y="148.1" class="lb">Ag</text>
<line x1="412" y1="156.6" x2="426.5" y2="156.6" stroke="#2a2a2a" stroke-width="1.4"/>
<text x="431.8" y="160.1" class="lb">BCP</text>
<line x1="412" y1="170.8" x2="426.5" y2="170.8" stroke="#2a2a2a" stroke-width="1.4"/>
<text x="431.8" y="174.3" class="lb">C<tspan font-size="6.5" dy="2">60</tspan></text>
<line x1="412" y1="191.1" x2="426.5" y2="191.1" stroke="#2a2a2a" stroke-width="1.4"/>
<text x="431.8" y="194.6" class="lb">Perovskite</text>
<line x1="412" y1="212.9" x2="426.5" y2="212.9" stroke="#2a2a2a" stroke-width="1.4"/>
<text x="431.8" y="216.4" class="lb">MPA-CPA</text>
<line x1="412" y1="227.9" x2="426.5" y2="227.9" stroke="#2a2a2a" stroke-width="1.4"/>
<text x="431.8" y="231.4" class="lb">PEN/ITO</text>
<ellipse cx="284.3" cy="234" rx="10.7" ry="4.2" fill="none" stroke="#dc3f86" stroke-width="1.2"/>
<line x1="273.8" y1="234.8" x2="135.5" y2="271" stroke="#dc3f86" stroke-width="1.1"/>
<line x1="294.8" y1="234.8" x2="427.5" y2="271" stroke="#dc3f86" stroke-width="1.1"/>
<rect x="135.5" y="271" width="292" height="183.4" fill="#fff" stroke="#e0545e" stroke-width="1.6"/>
<g filter="url(#soft2)">
<line x1="160" y1="276.3" x2="200" y2="276.3" stroke="#f6c6c6" stroke-width="1"/>
<line x1="288" y1="276.3" x2="330" y2="276.3" stroke="#cfe6bf" stroke-width="1"/>
<polygon points="143.0,310.1 160.5,292.6 178.0,310.1 160.5,327.6" fill="#d44a84"/><polygon points="143.0,310.1 160.5,327.6 178.0,310.1" fill="#a6446f"/><polygon points="160.5,292.6 178.0,310.1 160.5,310.1" fill="#cf4580" opacity="0.9"/><polygon points="160.5,292.6 143.0,310.1 160.5,310.1" fill="#dd5a90" opacity="0.9"/><polygon points="160.5,327.6 178.0,310.1 160.5,310.1" fill="#9a3c66" opacity="0.9"/><circle cx="160.5" cy="310.1" r="4.2" fill="url(#gPb)" opacity="0.85"/><polygon points="143.0,346.4 160.5,328.9 178.0,346.4 160.5,363.9" fill="#d44a84"/><polygon points="143.0,346.4 160.5,363.9 178.0,346.4" fill="#a6446f"/><polygon points="160.5,328.9 178.0,346.4 160.5,346.4" fill="#cf4580" opacity="0.9"/><polygon points="160.5,328.9 143.0,346.4 160.5,346.4" fill="#dd5a90" opacity="0.9"/><polygon points="160.5,363.9 178.0,346.4 160.5,346.4" fill="#9a3c66" opacity="0.9"/><circle cx="160.5" cy="346.4" r="4.2" fill="url(#gPb)" opacity="0.85"/><polygon points="178.0,310.1 195.5,292.6 213.0,310.1 195.5,327.6" fill="#d44a84"/><polygon points="178.0,310.1 195.5,327.6 213.0,310.1" fill="#a6446f"/><polygon points="195.5,292.6 213.0,310.1 195.5,310.1" fill="#cf4580" opacity="0.9"/><polygon points="195.5,292.6 178.0,310.1 195.5,310.1" fill="#dd5a90" opacity="0.9"/><polygon points="195.5,327.6 213.0,310.1 195.5,310.1" fill="#9a3c66" opacity="0.9"/><circle cx="195.5" cy="310.1" r="4.2" fill="url(#gPb)" opacity="0.85"/><polygon points="178.0,346.4 195.5,328.9 213.0,346.4 195.5,363.9" fill="#d44a84"/><polygon points="178.0,346.4 195.5,363.9 213.0,346.4" fill="#a6446f"/><polygon points="195.5,328.9 213.0,346.4 195.5,346.4" fill="#cf4580" opacity="0.9"/><polygon points="195.5,328.9 178.0,346.4 195.5,346.4" fill="#dd5a90" opacity="0.9"/><polygon points="195.5,363.9 213.0,346.4 195.5,346.4" fill="#9a3c66" opacity="0.9"/><circle cx="195.5" cy="346.4" r="4.2" fill="url(#gPb)" opacity="0.85"/><circle cx="143.0" cy="310.1" r="2.4" fill="url(#gBlue)"/><circle cx="143.0" cy="346.4" r="2.4" fill="url(#gBlue)"/><circle cx="160.5" cy="292.6" r="2.4" fill="url(#gBlue)"/><circle cx="160.5" cy="327.6" r="2.4" fill="url(#gBlue)"/><circle cx="160.5" cy="328.9" r="2.4" fill="url(#gBlue)"/><circle cx="160.5" cy="363.9" r="2.4" fill="url(#gBlue)"/><circle cx="178.0" cy="310.1" r="2.4" fill="url(#gBlue)"/><circle cx="178.0" cy="346.4" r="2.4" fill="url(#gBlue)"/><circle cx="195.5" cy="292.6" r="2.4" fill="url(#gBlue)"/><circle cx="195.5" cy="327.6" r="2.4" fill="url(#gBlue)"/><circle cx="195.5" cy="328.9" r="2.4" fill="url(#gBlue)"/><circle cx="195.5" cy="363.9" r="2.4" fill="url(#gBlue)"/><circle cx="213.0" cy="310.1" r="2.4" fill="url(#gBlue)"/><circle cx="213.0" cy="346.4" r="2.4" fill="url(#gBlue)"/><circle cx="178.0" cy="328.25" r="6.2" fill="url(#gCs)"/>
<polygon points="247.5,310.1 265,292.6 282.5,310.1 265,327.6" fill="#d44a84"/><polygon points="247.5,310.1 265,327.6 282.5,310.1" fill="#a6446f"/><polygon points="265,292.6 282.5,310.1 265,310.1" fill="#cf4580" opacity="0.9"/><polygon points="265,292.6 247.5,310.1 265,310.1" fill="#dd5a90" opacity="0.9"/><polygon points="265,327.6 282.5,310.1 265,310.1" fill="#9a3c66" opacity="0.9"/><circle cx="265" cy="310.1" r="4.2" fill="url(#gPb)" opacity="0.85"/><polygon points="247.5,346.4 265,328.9 282.5,346.4 265,363.9" fill="#d44a84"/><polygon points="247.5,346.4 265,363.9 282.5,346.4" fill="#a6446f"/><polygon points="265,328.9 282.5,346.4 265,346.4" fill="#cf4580" opacity="0.9"/><polygon points="265,328.9 247.5,346.4 265,346.4" fill="#dd5a90" opacity="0.9"/><polygon points="265,363.9 282.5,346.4 265,346.4" fill="#9a3c66" opacity="0.9"/><circle cx="265" cy="346.4" r="4.2" fill="url(#gPb)" opacity="0.85"/><polygon points="282.5,310.1 300,292.6 317.5,310.1 300,327.6" fill="#d44a84"/><polygon points="282.5,310.1 300,327.6 317.5,310.1" fill="#a6446f"/><polygon points="300,292.6 317.5,310.1 300,310.1" fill="#cf4580" opacity="0.9"/><polygon points="300,292.6 282.5,310.1 300,310.1" fill="#dd5a90" opacity="0.9"/><polygon points="300,327.6 317.5,310.1 300,310.1" fill="#9a3c66" opacity="0.9"/><circle cx="300" cy="310.1" r="4.2" fill="url(#gPb)" opacity="0.85"/><polygon points="282.5,346.4 300,328.9 317.5,346.4 300,363.9" fill="#d44a84"/><polygon points="282.5,346.4 300,363.9 317.5,346.4" fill="#a6446f"/><polygon points="300,328.9 317.5,346.4 300,346.4" fill="#cf4580" opacity="0.9"/><polygon points="300,328.9 282.5,346.4 300,346.4" fill="#dd5a90" opacity="0.9"/><polygon points="300,363.9 317.5,346.4 300,346.4" fill="#9a3c66" opacity="0.9"/><circle cx="300" cy="346.4" r="4.2" fill="url(#gPb)" opacity="0.85"/><circle cx="247.5" cy="310.1" r="2.4" fill="url(#gBlue)"/><circle cx="247.5" cy="346.4" r="2.4" fill="url(#gBlue)"/><circle cx="265" cy="292.6" r="2.4" fill="url(#gBlue)"/><circle cx="265" cy="327.6" r="2.4" fill="url(#gBlue)"/><circle cx="265" cy="328.9" r="2.4" fill="url(#gBlue)"/><circle cx="265" cy="363.9" r="2.4" fill="url(#gBlue)"/><circle cx="282.5" cy="310.1" r="2.4" fill="url(#gBlue)"/><circle cx="282.5" cy="346.4" r="2.4" fill="url(#gBlue)"/><circle cx="300" cy="292.6" r="2.4" fill="url(#gBlue)"/><circle cx="300" cy="327.6" r="2.4" fill="url(#gBlue)"/><circle cx="300" cy="328.9" r="2.4" fill="url(#gBlue)"/><circle cx="300" cy="363.9" r="2.4" fill="url(#gBlue)"/><circle cx="317.5" cy="310.1" r="2.4" fill="url(#gBlue)"/><circle cx="317.5" cy="346.4" r="2.4" fill="url(#gBlue)"/><circle cx="282.5" cy="328.25" r="6.2" fill="url(#gCs)"/>
<polygon points="350.9,310.1 368.2,292.8 385.5,310.1 368.2,327.40000000000003" fill="#d44a84"/><polygon points="350.9,310.1 368.2,327.40000000000003 385.5,310.1" fill="#a6446f"/><polygon points="368.2,292.8 385.5,310.1 368.2,310.1" fill="#cf4580" opacity="0.9"/><polygon points="368.2,292.8 350.9,310.1 368.2,310.1" fill="#dd5a90" opacity="0.9"/><polygon points="368.2,327.40000000000003 385.5,310.1 368.2,310.1" fill="#9a3c66" opacity="0.9"/><circle cx="368.2" cy="310.1" r="4.2" fill="url(#gPb)" opacity="0.85"/><polygon points="350.9,346.4 368.2,329.09999999999997 385.5,346.4 368.2,363.7" fill="#d44a84"/><polygon points="350.9,346.4 368.2,363.7 385.5,346.4" fill="#a6446f"/><polygon points="368.2,329.09999999999997 385.5,346.4 368.2,346.4" fill="#cf4580" opacity="0.9"/><polygon points="368.2,329.09999999999997 350.9,346.4 368.2,346.4" fill="#dd5a90" opacity="0.9"/><polygon points="368.2,363.7 385.5,346.4 368.2,346.4" fill="#9a3c66" opacity="0.9"/><circle cx="368.2" cy="346.4" r="4.2" fill="url(#gPb)" opacity="0.85"/><polygon points="385.5,310.1 402.8,292.8 420.1,310.1 402.8,327.40000000000003" fill="#d44a84"/><polygon points="385.5,310.1 402.8,327.40000000000003 420.1,310.1" fill="#a6446f"/><polygon points="402.8,292.8 420.1,310.1 402.8,310.1" fill="#cf4580" opacity="0.9"/><polygon points="402.8,292.8 385.5,310.1 402.8,310.1" fill="#dd5a90" opacity="0.9"/><polygon points="402.8,327.40000000000003 420.1,310.1 402.8,310.1" fill="#9a3c66" opacity="0.9"/><circle cx="402.8" cy="310.1" r="4.2" fill="url(#gPb)" opacity="0.85"/><polygon points="385.5,346.4 402.8,329.09999999999997 420.1,346.4 402.8,363.7" fill="#d44a84"/><polygon points="385.5,346.4 402.8,363.7 420.1,346.4" fill="#a6446f"/><polygon points="402.8,329.09999999999997 420.1,346.4 402.8,346.4" fill="#cf4580" opacity="0.9"/><polygon points="402.8,329.09999999999997 385.5,346.4 402.8,346.4" fill="#dd5a90" opacity="0.9"/><polygon points="402.8,363.7 420.1,346.4 402.8,346.4" fill="#9a3c66" opacity="0.9"/><circle cx="402.8" cy="346.4" r="4.2" fill="url(#gPb)" opacity="0.85"/><circle cx="350.9" cy="310.1" r="2.4" fill="url(#gBlue)"/><circle cx="350.9" cy="346.4" r="2.4" fill="url(#gBlue)"/><circle cx="368.2" cy="292.8" r="2.4" fill="url(#gBlue)"/><circle cx="368.2" cy="327.4" r="2.4" fill="url(#gBlue)"/><circle cx="368.2" cy="329.1" r="2.4" fill="url(#gBlue)"/><circle cx="368.2" cy="363.7" r="2.4" fill="url(#gBlue)"/><circle cx="385.5" cy="310.1" r="2.4" fill="url(#gBlue)"/><circle cx="385.5" cy="346.4" r="2.4" fill="url(#gBlue)"/><circle cx="402.8" cy="292.8" r="2.4" fill="url(#gBlue)"/><circle cx="402.8" cy="327.4" r="2.4" fill="url(#gBlue)"/><circle cx="402.8" cy="329.1" r="2.4" fill="url(#gBlue)"/><circle cx="402.8" cy="363.7" r="2.4" fill="url(#gBlue)"/><circle cx="420.1" cy="310.1" r="2.4" fill="url(#gBlue)"/><circle cx="420.1" cy="346.4" r="2.4" fill="url(#gBlue)"/><circle cx="385.5" cy="328.25" r="6.2" fill="url(#gCs)"/>
<line x1="184" y1="328" x2="222" y2="329.6" stroke="#d4e8c8" stroke-width="0.9"/>
<line x1="233" y1="333" x2="263" y2="311" stroke="#f4b4b8" stroke-width="0.9"/>
<line x1="340.5" y1="329.3" x2="372" y2="329.3" stroke="#d4e8c8" stroke-width="0.9"/>
<line x1="300" y1="346.4" x2="330" y2="333.3" stroke="#f4b4b8" stroke-width="0.9"/>
<line x1="227.8" y1="339.4" x2="232.8" y2="342.9" stroke="#8a8a8a" stroke-width="0.7"/><line x1="232.8" y1="342.9" x2="232.8" y2="349.9" stroke="#8a8a8a" stroke-width="0.7"/><line x1="232.8" y1="349.9" x2="227.8" y2="353.4" stroke="#8a8a8a" stroke-width="0.7"/><line x1="227.8" y1="353.4" x2="222.8" y2="349.9" stroke="#8a8a8a" stroke-width="0.7"/><line x1="222.8" y1="349.9" x2="222.8" y2="342.9" stroke="#8a8a8a" stroke-width="0.7"/><line x1="222.8" y1="342.9" x2="227.8" y2="339.4" stroke="#8a8a8a" stroke-width="0.7"/><circle cx="227.8" cy="339.4" r="1.5" fill="#505050"/><circle cx="232.8" cy="342.9" r="1.5" fill="#505050"/><circle cx="232.8" cy="349.9" r="1.5" fill="#505050"/><circle cx="227.8" cy="353.4" r="1.5" fill="#505050"/><circle cx="222.8" cy="349.9" r="1.5" fill="#505050"/><circle cx="222.8" cy="342.9" r="1.5" fill="#505050"/><circle cx="236.4" cy="340.9" r="0.8" fill="#666"/><circle cx="236.4" cy="351.9" r="0.8" fill="#666"/><circle cx="219.20000000000002" cy="340.9" r="0.8" fill="#666"/><circle cx="219.20000000000002" cy="351.9" r="0.8" fill="#666"/><circle cx="227.8" cy="336.0" r="1.4" fill="#b06878"/><circle cx="222.8" cy="333.29999999999995" r="1.9" fill="#dc1414"/><circle cx="222.5" cy="329.79999999999995" r="0.8" fill="#555"/><circle cx="232.8" cy="333.29999999999995" r="1.9" fill="#dc1414"/><circle cx="233.10000000000002" cy="329.79999999999995" r="0.8" fill="#555"/><circle cx="227.8" cy="358.2" r="1.5" fill="#505050"/><line x1="223.20000000000002" y1="365.4" x2="223.20000000000002" y2="373.4" stroke="#b8d8a8" stroke-width="0.8"/><circle cx="222.8" cy="363.4" r="1.9" fill="#dc1414"/><circle cx="223.60000000000002" cy="366.7" r="0.7" fill="#555"/><line x1="232.4" y1="365.4" x2="232.4" y2="373.4" stroke="#b8d8a8" stroke-width="0.8"/><circle cx="232.8" cy="363.4" r="1.9" fill="#dc1414"/><circle cx="232.0" cy="366.7" r="0.7" fill="#555"/>
<line x1="335.1" y1="339.4" x2="340.1" y2="342.9" stroke="#8a8a8a" stroke-width="0.7"/><line x1="340.1" y1="342.9" x2="340.1" y2="349.9" stroke="#8a8a8a" stroke-width="0.7"/><line x1="340.1" y1="349.9" x2="335.1" y2="353.4" stroke="#8a8a8a" stroke-width="0.7"/><line x1="335.1" y1="353.4" x2="330.1" y2="349.9" stroke="#8a8a8a" stroke-width="0.7"/><line x1="330.1" y1="349.9" x2="330.1" y2="342.9" stroke="#8a8a8a" stroke-width="0.7"/><line x1="330.1" y1="342.9" x2="335.1" y2="339.4" stroke="#8a8a8a" stroke-width="0.7"/><circle cx="335.1" cy="339.4" r="1.5" fill="#505050"/><circle cx="340.1" cy="342.9" r="1.5" fill="#505050"/><circle cx="340.1" cy="349.9" r="1.5" fill="#505050"/><circle cx="335.1" cy="353.4" r="1.5" fill="#505050"/><circle cx="330.1" cy="349.9" r="1.5" fill="#505050"/><circle cx="330.1" cy="342.9" r="1.5" fill="#505050"/><circle cx="343.70000000000005" cy="340.9" r="0.8" fill="#666"/><circle cx="343.70000000000005" cy="351.9" r="0.8" fill="#666"/><circle cx="326.5" cy="340.9" r="0.8" fill="#666"/><circle cx="326.5" cy="351.9" r="0.8" fill="#666"/><circle cx="335.1" cy="336.0" r="1.4" fill="#b06878"/><circle cx="330.1" cy="333.29999999999995" r="1.9" fill="#dc1414"/><circle cx="329.8" cy="329.79999999999995" r="0.8" fill="#555"/><circle cx="340.1" cy="333.29999999999995" r="1.9" fill="#dc1414"/><circle cx="340.40000000000003" cy="329.79999999999995" r="0.8" fill="#555"/><circle cx="335.1" cy="358.2" r="1.5" fill="#505050"/><line x1="330.5" y1="365.4" x2="330.5" y2="373.4" stroke="#b8d8a8" stroke-width="0.8"/><circle cx="330.1" cy="363.4" r="1.9" fill="#dc1414"/><circle cx="330.90000000000003" cy="366.7" r="0.7" fill="#555"/><line x1="339.70000000000005" y1="365.4" x2="339.70000000000005" y2="373.4" stroke="#b8d8a8" stroke-width="0.8"/><circle cx="340.1" cy="363.4" r="1.9" fill="#dc1414"/><circle cx="339.3" cy="366.7" r="0.7" fill="#555"/>
<ellipse cx="152.5" cy="386.7" rx="3.7" ry="12.8" fill="url(#gSam)"/>
<ellipse cx="161.4" cy="386.7" rx="3.7" ry="12.8" fill="url(#gSam)"/>
<ellipse cx="170.2" cy="386.7" rx="3.7" ry="12.8" fill="url(#gSam)"/>
<ellipse cx="179.1" cy="386.7" rx="3.7" ry="12.8" fill="url(#gSam)"/>
<ellipse cx="188.0" cy="386.7" rx="3.7" ry="12.8" fill="url(#gSam)"/>
<ellipse cx="196.8" cy="386.7" rx="3.7" ry="12.8" fill="url(#gSam)"/>
<ellipse cx="205.7" cy="386.7" rx="3.7" ry="12.8" fill="url(#gSam)"/>
<ellipse cx="214.6" cy="386.7" rx="3.7" ry="12.8" fill="url(#gSam)"/>
<ellipse cx="223.5" cy="386.7" rx="3.7" ry="12.8" fill="url(#gSam)"/>
<ellipse cx="232.3" cy="386.7" rx="3.7" ry="12.8" fill="url(#gSam)"/>
<ellipse cx="241.2" cy="386.7" rx="3.7" ry="12.8" fill="url(#gSam)"/>
<ellipse cx="250.1" cy="386.7" rx="3.7" ry="12.8" fill="url(#gSam)"/>
<ellipse cx="258.9" cy="386.7" rx="3.7" ry="12.8" fill="url(#gSam)"/>
<ellipse cx="267.8" cy="386.7" rx="3.7" ry="12.8" fill="url(#gSam)"/>
<ellipse cx="276.7" cy="386.7" rx="3.7" ry="12.8" fill="url(#gSam)"/>
<ellipse cx="285.5" cy="386.7" rx="3.7" ry="12.8" fill="url(#gSam)"/>
<ellipse cx="294.4" cy="386.7" rx="3.7" ry="12.8" fill="url(#gSam)"/>
<ellipse cx="303.3" cy="386.7" rx="3.7" ry="12.8" fill="url(#gSam)"/>
<ellipse cx="312.2" cy="386.7" rx="3.7" ry="12.8" fill="url(#gSam)"/>
<ellipse cx="321.0" cy="386.7" rx="3.7" ry="12.8" fill="url(#gSam)"/>
<ellipse cx="329.9" cy="386.7" rx="3.7" ry="12.8" fill="url(#gSam)"/>
<ellipse cx="338.8" cy="386.7" rx="3.7" ry="12.8" fill="url(#gSam)"/>
<ellipse cx="347.6" cy="386.7" rx="3.7" ry="12.8" fill="url(#gSam)"/>
<ellipse cx="356.5" cy="386.7" rx="3.7" ry="12.8" fill="url(#gSam)"/>
<ellipse cx="365.4" cy="386.7" rx="3.7" ry="12.8" fill="url(#gSam)"/>
<ellipse cx="374.2" cy="386.7" rx="3.7" ry="12.8" fill="url(#gSam)"/>
<ellipse cx="383.1" cy="386.7" rx="3.7" ry="12.8" fill="url(#gSam)"/>
<ellipse cx="392.0" cy="386.7" rx="3.7" ry="12.8" fill="url(#gSam)"/>
<ellipse cx="400.9" cy="386.7" rx="3.7" ry="12.8" fill="url(#gSam)"/>
<ellipse cx="409.7" cy="386.7" rx="3.7" ry="12.8" fill="url(#gSam)"/>
<polygon points="153.4,436.5 167.8,422.1 182.20000000000002,436.5 167.8,450.9" fill="#d44a84"/><polygon points="153.4,436.5 167.8,450.9 182.20000000000002,436.5" fill="#a6446f"/><polygon points="167.8,422.1 182.20000000000002,436.5 167.8,436.5" fill="#cf4580" opacity="0.9"/><polygon points="167.8,422.1 153.4,436.5 167.8,436.5" fill="#dd5a90" opacity="0.9"/><polygon points="167.8,450.9 182.20000000000002,436.5 167.8,436.5" fill="#9a3c66" opacity="0.9"/><circle cx="167.8" cy="436.5" r="4.2" fill="url(#gPb)" opacity="0.85"/>
<circle cx="153.4" cy="436.5" r="2.4" fill="url(#gBlue)"/>
<circle cx="182.20000000000002" cy="436.5" r="2.4" fill="url(#gBlue)"/>
<circle cx="167.8" cy="422.1" r="2.4" fill="url(#gBlue)"/>
<circle cx="167.8" cy="450.9" r="2.4" fill="url(#gBlue)"/>
<circle cx="215" cy="436.5" r="6.6" fill="url(#gCs)"/>
<circle cx="259.2" cy="435.6" r="5.2" fill="url(#gGray)"/>
<circle cx="296" cy="435.7" r="2.6" fill="url(#gC)"/>
<circle cx="325" cy="435.5" r="2.2" fill="#e01818"/>
<circle cx="352" cy="435.2" r="2.2" fill="#dc6a88"/>
<circle cx="377" cy="435.5" r="1.4" fill="#cfcfcf"/>
<ellipse cx="401" cy="435.2" rx="3.1" ry="9.6" fill="url(#gSam)"/>
<ellipse cx="407" cy="435.2" rx="3.1" ry="9.6" fill="url(#gSam)"/>
<ellipse cx="413" cy="435.2" rx="3.1" ry="9.6" fill="url(#gSam)"/>
</g>
<text x="236.8" y="279.6" class="lg" text-anchor="middle">Passivation</text>
<text x="376.5" y="279.6" class="lg" text-anchor="middle">Hydrogen bonding</text>
<text x="169" y="415.2" class="lg2" text-anchor="middle">[PbI<tspan font-size="6" dy="1.5">6</tspan><tspan dy="-1.5">]</tspan><tspan font-size="6" dy="-3">4-</tspan></text>
<text x="215" y="415.2" class="lg2" text-anchor="middle">CS<tspan font-size="6" dy="-3">+</tspan><tspan dy="3">/FA</tspan><tspan font-size="6" dy="-3">+</tspan></text>
<text x="261" y="415.2" class="lg2" text-anchor="middle">Pb<tspan font-size="6" dy="-3">2+</tspan></text>
<text x="295" y="415.2" class="lg2" text-anchor="middle">C</text>
<text x="324.7" y="415.2" class="lg2" text-anchor="middle">O</text>
<text x="351.5" y="415.2" class="lg2" text-anchor="middle">B</text>
<text x="377" y="415.2" class="lg2" text-anchor="middle">H</text>
<text x="405" y="415.2" class="lg2" text-anchor="middle">SAM</text>
<line x1="345.2" y1="353.5" x2="436" y2="321.6" stroke="#dc3f86" stroke-width="1.1"/>
<polygon points="441,319.9 434.2,318.8 436.3,324.9" fill="#dc3f86"/>
<ellipse cx="480.5" cy="330.8" rx="41" ry="88" fill="none" stroke="#dc3f86" stroke-width="1.7" stroke-dasharray="12.5 5"/>
<g filter="url(#soft2)"><line x1="479" y1="285.7" x2="465.6" y2="277.0" stroke="#c4c4c4" stroke-width="2" stroke-linecap="round"/><line x1="479" y1="285.7" x2="492.6" y2="277.0" stroke="#c4c4c4" stroke-width="2" stroke-linecap="round"/><line x1="465.6" y1="277.0" x2="466.6" y2="267.0" stroke="#c4c4c4" stroke-width="2" stroke-linecap="round"/><line x1="492.6" y1="277.0" x2="493.4" y2="267.0" stroke="#c4c4c4" stroke-width="2" stroke-linecap="round"/><line x1="479" y1="285.7" x2="479" y2="303.6" stroke="#c4c4c4" stroke-width="2" stroke-linecap="round"/><line x1="479" y1="303.6" x2="465.0" y2="311.4" stroke="#c4c4c4" stroke-width="2" stroke-linecap="round"/><line x1="479" y1="303.6" x2="493.2" y2="311.4" stroke="#c4c4c4" stroke-width="2" stroke-linecap="round"/><line x1="465.0" y1="311.4" x2="465.0" y2="325.7" stroke="#c4c4c4" stroke-width="2" stroke-linecap="round"/><line x1="493.2" y1="311.4" x2="493.2" y2="325.7" stroke="#c4c4c4" stroke-width="2" stroke-linecap="round"/><line x1="465.0" y1="325.7" x2="479" y2="333.6" stroke="#c4c4c4" stroke-width="2" stroke-linecap="round"/><line x1="493.2" y1="325.7" x2="479" y2="333.6" stroke="#c4c4c4" stroke-width="2" stroke-linecap="round"/><line x1="479" y1="333.6" x2="479" y2="349.5" stroke="#c4c4c4" stroke-width="2" stroke-linecap="round"/><line x1="479" y1="349.5" x2="465.0" y2="356.3" stroke="#c4c4c4" stroke-width="2" stroke-linecap="round"/><line x1="479" y1="349.5" x2="490.0" y2="357.2" stroke="#c4c4c4" stroke-width="2" stroke-linecap="round"/><line x1="465.0" y1="356.3" x2="466.6" y2="365.3" stroke="#c4c4c4" stroke-width="2" stroke-linecap="round"/><line x1="465.0" y1="311.4" x2="455.2" y2="305.2" stroke="#c4c4c4" stroke-width="2" stroke-linecap="round"/><line x1="493.2" y1="311.4" x2="503.0" y2="305.2" stroke="#c4c4c4" stroke-width="2" stroke-linecap="round"/><line x1="465.0" y1="325.7" x2="455.2" y2="332.0" stroke="#c4c4c4" stroke-width="2" stroke-linecap="round"/><line x1="493.2" y1="325.7" x2="503.0" y2="332.0" stroke="#c4c4c4" stroke-width="2" stroke-linecap="round"/><circle cx="479" cy="285.7" r="4.3" fill="url(#gB)"/><circle cx="465.6" cy="277.0" r="4.3" fill="url(#gO)"/><circle cx="492.6" cy="277.0" r="4.3" fill="url(#gO)"/><circle cx="466.6" cy="267.0" r="2.9" fill="url(#gH)"/><circle cx="493.4" cy="267.0" r="2.9" fill="url(#gH)"/><circle cx="479" cy="303.6" r="4.4" fill="url(#gC)"/><circle cx="465.0" cy="311.4" r="4.4" fill="url(#gC)"/><circle cx="493.2" cy="311.4" r="4.4" fill="url(#gC)"/><circle cx="465.0" cy="325.7" r="4.4" fill="url(#gC)"/><circle cx="493.2" cy="325.7" r="4.4" fill="url(#gC)"/><circle cx="479" cy="333.6" r="4.4" fill="url(#gC)"/><circle cx="479" cy="349.5" r="4.4" fill="url(#gC)"/><circle cx="465.0" cy="356.3" r="4.3" fill="url(#gO)"/><circle cx="490.0" cy="357.2" r="4.3" fill="url(#gO)"/><circle cx="466.6" cy="365.3" r="2.9" fill="url(#gH)"/><circle cx="455.2" cy="305.2" r="3.0" fill="url(#gH)"/><circle cx="503.0" cy="305.2" r="3.0" fill="url(#gH)"/><circle cx="455.2" cy="332.0" r="3.0" fill="url(#gH)"/><circle cx="503.0" cy="332.0" r="3.0" fill="url(#gH)"/></g>
<text x="480.7" y="391.5" text-anchor="middle" style="font-size:18px;fill:#222">4-BBA</text>
<circle cx="554.4" cy="468.8" r="14" fill="none" stroke="#d83a86" stroke-width="1.6"/>
<text x="511.5" y="454" text-anchor="middle" class="voc" filter="url(#yglow)" style="fill:#ffe95a;stroke:#ffe95a;stroke-width:3">1.21V</text>
<text x="511.5" y="454" text-anchor="middle" class="voc">1.21V</text>
<polygon points="512.6,8 545,58 564,48 570.4,73 611.5,70.7 595,88 622.6,106 605,109 630.6,133.6 602,125.5 618,155 590.8,131.8 582.4,156 566.4,123 546.5,138 542,107.3 510.4,120.4 520.6,98.4 498,88 512.4,78.3 475.6,52.7 506,59 491.7,30 523.8,48.2" fill="#d9387d"/><g transform="translate(561,95) rotate(41)"><text x="0" y="9" text-anchor="middle" class="pce" filter="url(#glow)" stroke="#f58a32" stroke-width="2.2" fill="#f58a32">25.3%</text><text x="0" y="9" text-anchor="middle" class="pce" style="fill:#fff4e6">25.3%</text></g>
</svg>
</body></html>
